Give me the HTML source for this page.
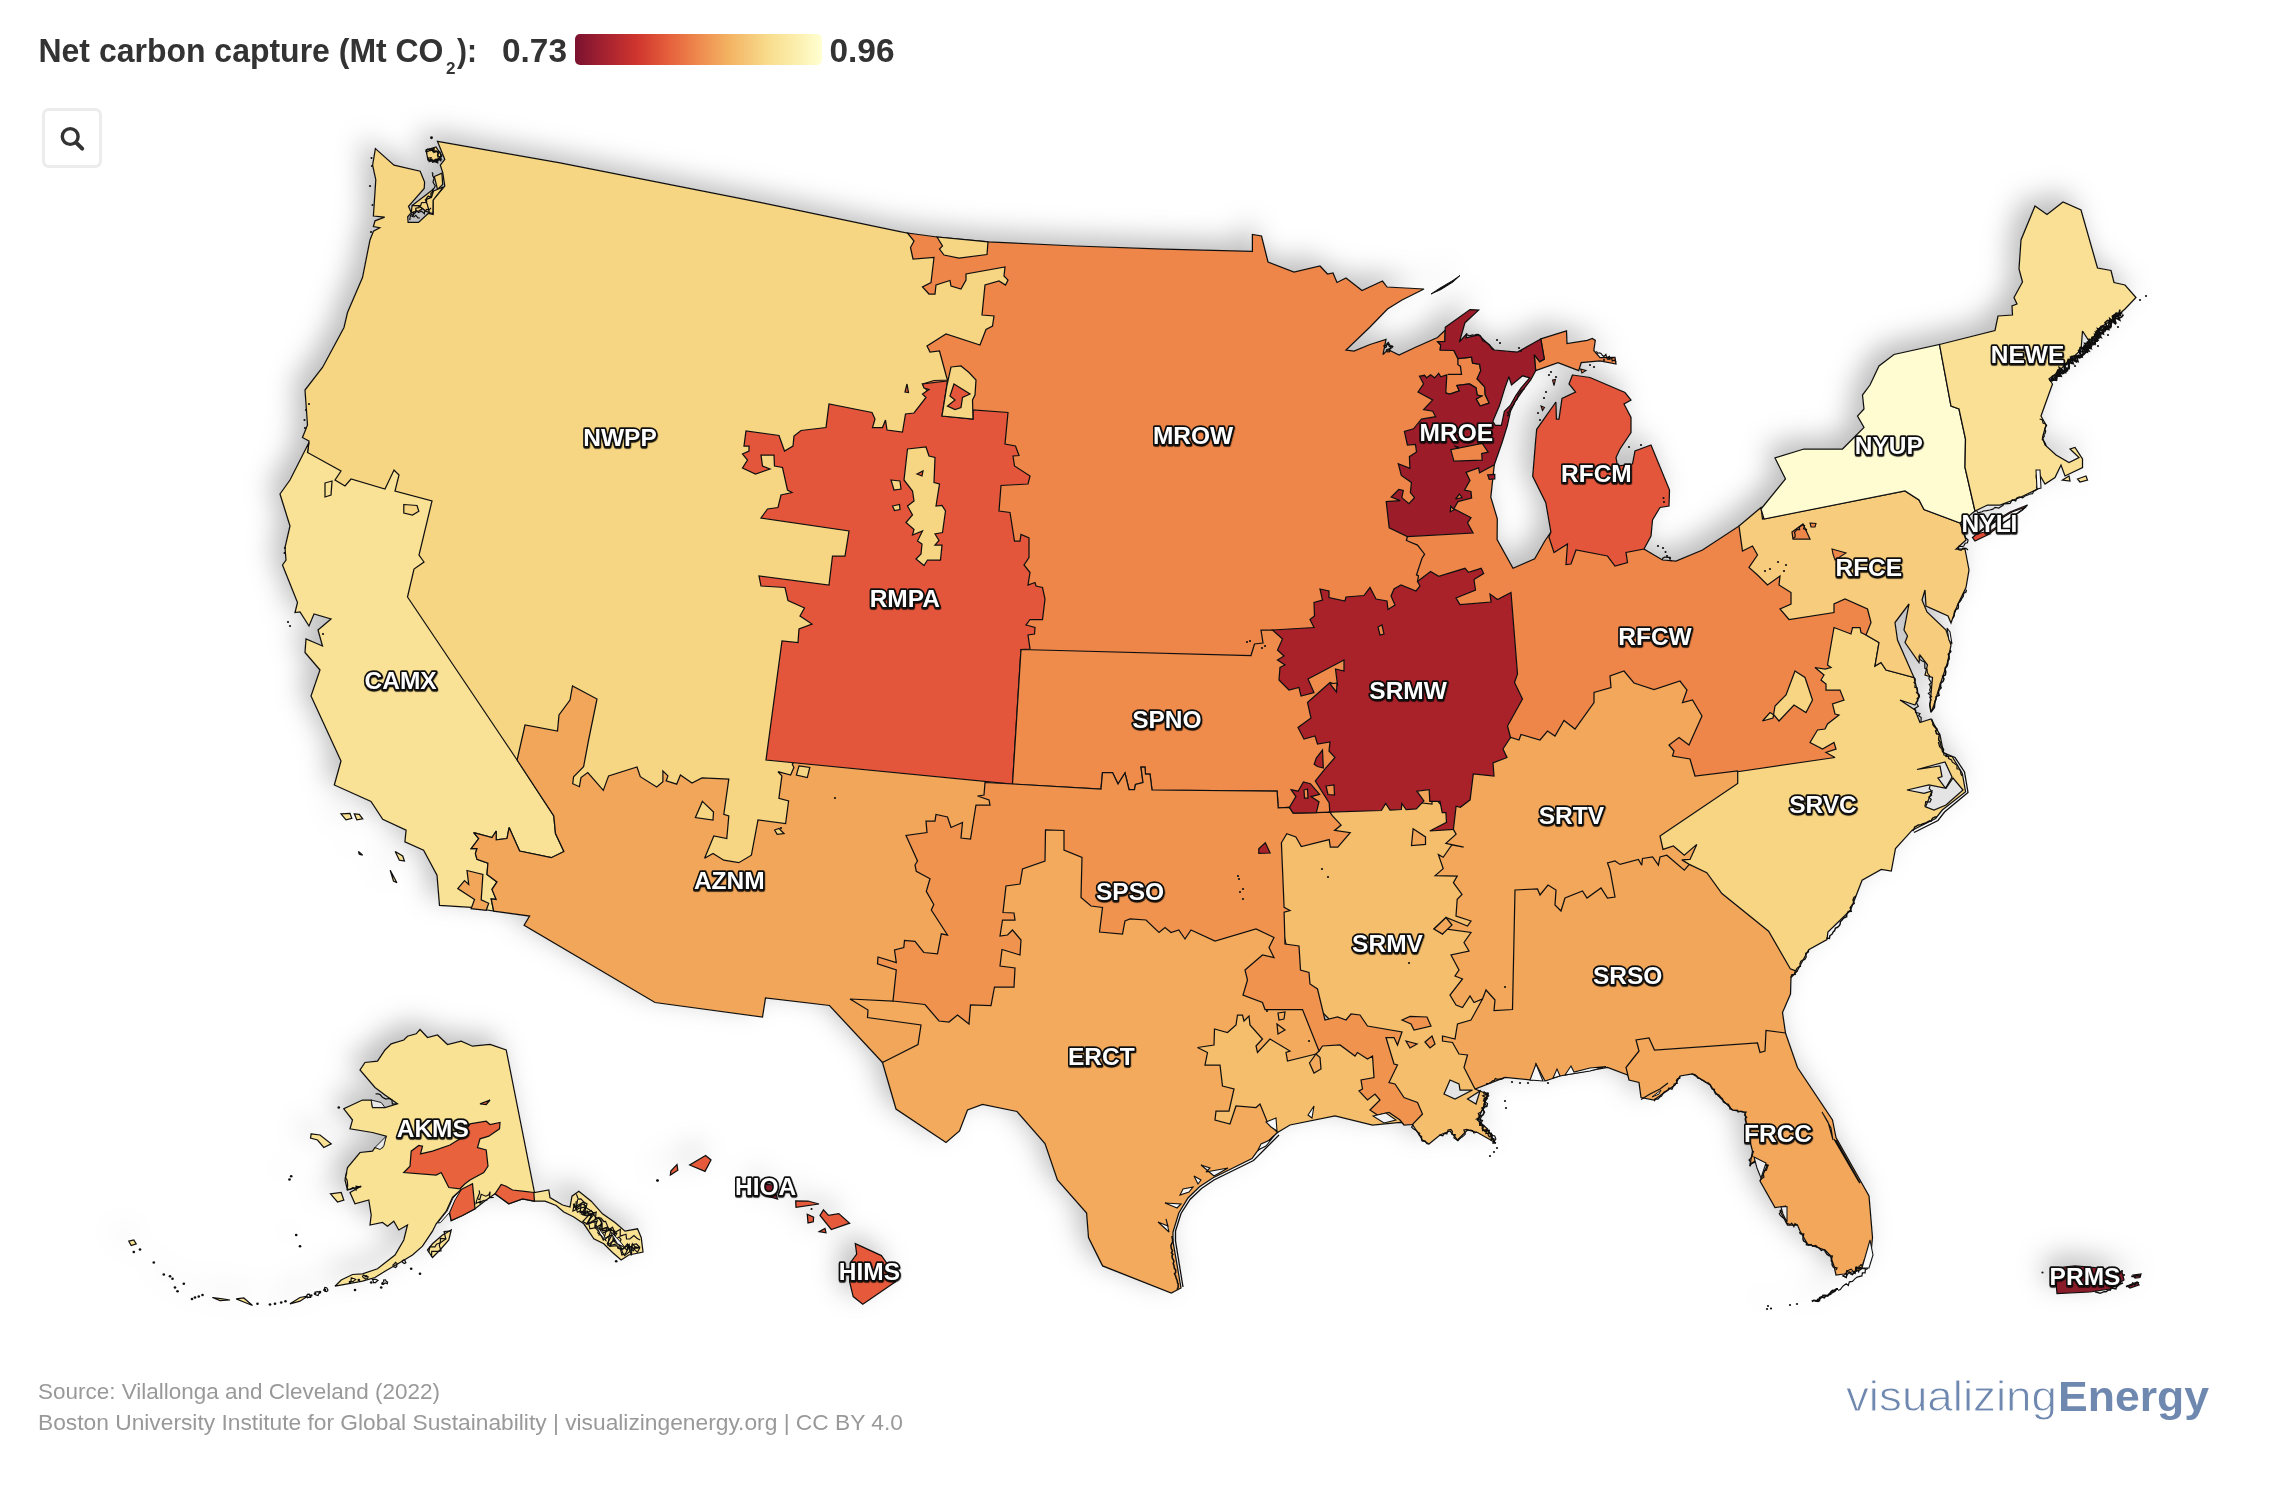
<!DOCTYPE html>
<html><head><meta charset="utf-8"><title>Net carbon capture</title>
<style>
html,body{margin:0;padding:0;background:#fff;}
body{width:2276px;height:1488px;overflow:hidden;position:relative;font-family:"Liberation Sans",sans-serif;}
svg{position:absolute;left:0;top:0;}
.map polygon,.map path{stroke:#111;stroke-width:1.25;stroke-linejoin:miter;stroke-miterlimit:3;}
.lab text{font-family:"Liberation Sans",sans-serif;font-weight:700;font-size:24.5px;text-anchor:middle;fill:#fff;stroke:#0c0c0c;stroke-width:3.3px;paint-order:stroke;stroke-linejoin:round;}
.hd text{font-family:"Liberation Sans",sans-serif;font-weight:700;fill:#333;}
.ft text{font-family:"Liberation Sans",sans-serif;fill:#999;font-size:22.5px;}
.btn{position:absolute;left:41.5px;top:107.5px;width:54.5px;height:54.5px;border:3.2px solid #ececec;border-radius:7px;background:#fff;}
</style></head><body>
<svg width="2276" height="1488" viewBox="0 0 2276 1488">
<defs>
<linearGradient id="lg" x1="0" x2="1" y1="0" y2="0">
<stop offset="0" stop-color="#7b1230"/><stop offset="0.12" stop-color="#a52230"/><stop offset="0.25" stop-color="#cf352e"/><stop offset="0.38" stop-color="#e6603c"/><stop offset="0.5" stop-color="#ee8a4e"/><stop offset="0.62" stop-color="#f3b262"/><stop offset="0.78" stop-color="#f8dc8c"/><stop offset="0.9" stop-color="#fcefae"/><stop offset="1" stop-color="#ffffd2"/>
</linearGradient>
<filter id="ls" x="-20%" y="-40%" width="140%" height="180%"><feDropShadow dx="0.3" dy="1.1" stdDeviation="0.45" flood-color="#000" flood-opacity="0.85"/></filter>
<filter id="noop" x="0" y="0" width="100%" height="100%"><feOffset dx="0" dy="0"/></filter>
<filter id="ds" x="-8%" y="-8%" width="116%" height="116%"><feDropShadow dx="-10" dy="-10" stdDeviation="13.5" flood-color="#000" flood-opacity="0.26"/></filter>
</defs>
<g class="map" filter="url(#ds)">
<polygon fill="#f7d683" points="437.5,141.4 560,162.8 660,182.6 760,202.4 900,231.6 912,234 1015,255 1015,400 985,430 930,400 870,600 812,700 812,870 700,870 700,800 560,800 530,790 400,620 330,500 307.5,452.5 309,441 302.5,437.5 307.5,425 305,390 322.5,367.5 344,327.5 347.5,312.5 362.5,277.5 370,240 373.4,231.3 379.8,227.7 373.4,226.5 375,220.8 384.7,217.2 373.4,216 375.8,179.7 372.6,165.2 375.4,148.6 394,165.2 420.2,171.2 424.6,182.1 424.2,188.5 408.5,206.3 411.3,212.7 407.7,216.8 408.1,222.4 418.5,222.4 428.2,213.5 433.1,214.4 433.1,199.8 444.8,186.1 442.7,172.4 440.3,165.2 444.8,159.5"/>
<polygon fill="#f7d683" points="422.6,197.4 433,189.4 431.5,197.4 425.8,199.8 428.2,205.5 429.8,212.7 425.8,211.1 418.5,205.5 412.1,205.5"/>
<polygon fill="#f7d683" points="434.3,176.5 441.9,173.2 442.7,184.5 437.5,189.4"/>
<polygon fill="#f7d683" points="433.5,191 443.5,186.9 433.1,200.2 432.9,213.5 429.4,212.7 427.4,204.7 425.4,199.8 431.5,197.4"/>
<polygon fill="#f7d683" points="412.1,205.5 418.5,205.9 422.6,208.7 418.5,211.1 411.3,212.7"/>
<polygon fill="#f7d683" points="426,150 436,147 442,156 436,162 428,160"/>
<polygon fill="#ee864a" points="907.5,233 937,237 988,241.8 1075.7,246 1163.6,249.2 1252.4,251.3 1252.4,234.5 1261.5,236 1268,262 1294,272 1320,266 1327.5,274 1333,273 1337,282.5 1346,278 1362,290.5 1382.5,281 1387,287 1424,289 1402,300 1387.5,309 1370,327 1346,350 1354,351 1370,344.5 1386,339.4 1383,354.6 1388,349.5 1399,355 1415,347.5 1437.5,337.5 1445.3,330 1444.8,341.4 1437.7,341.9 1440.7,345 1440.2,350 1453.9,350.5 1457.9,358.6 1471.6,357.1 1472.6,363.2 1479.6,364.2 1480.7,370.7 1477.1,378.8 1484.7,386.9 1485.2,394.5 1489.2,403.1 1480.1,406.1 1476.1,399 1481.7,396 1477.1,395 1476.1,387.9 1469.5,383.9 1456.9,385.4 1459.4,390.9 1449.8,394 1445.8,393 1440,400 1440,520 1440,600 1300,700 1021,700 1000,600 985,500 985,430 930,395 922.5,384 934,380.5 947.5,380 946,375 939.5,351 930,352 927,346 946,334 980,345 986,329.5 992.5,326 994,316 982,315 985,285 999,281 1005.5,285 1008,280 1004,276 1005,267 966,274 966,280 961,289 951,286 950,280.5 936,285 935,294 929,294 922.5,287 931,282.5 934,257.5 913,259 910.5,247.5 914,241"/>
<polygon fill="#ee864a" points="1540.8,338.9 1566.5,330.8 1567,343.5 1587.3,340.4 1592.3,338.4 1595.3,340.4 1593.8,350.5 1600,357.6 1615,357.5 1616,364 1600,361 1581.2,362.7 1578.7,370.7 1558,362.7 1535.7,370.7 1534.2,354.6 1539.8,361.6 1544.3,359.1"/>
<polygon fill="#f7d683" points="937,237 942.5,246 939.5,249 944,255 959,258 987,254.5 988,241.8"/>
<polygon fill="#f9e195" points="309,442.5 307.5,452.5 341,471 335,480 345,486 351,479 385,489 394,470 399,475 395,491 432,501 419,555 424,562 414,569 407.5,597 517.1,760 553.8,815.9 555.5,833.5 563.9,851.5 551.3,857.7 519.6,851 509.1,827.6 507,838.5 496.2,839.8 496.2,831 492,837.6 473.7,832.6 478.7,838.5 471.2,848.5 477,848.5 475.4,853.5 477,859.3 487.9,863.2 487,874.4 497,881.9 492,889.4 496.2,899.4 491.2,898.9 493.7,911.1 471.2,907.3 439.5,905.3 437,875.2 423.6,850.2 404.9,841.8 406.1,830.1 382.7,819.3 371,801.4 334.3,785 341,761 311,696 320,670 305,652.5 306,639 322.5,646 318,630 331,619 314,614 309,626 300,612 295,612.5 297.5,602.5 282.5,565 286,560 285,547.5 290,526 280,494 290,480"/>
<polygon fill="#f7d683" points="403.8,504.5 417,505.5 418.8,511.3 412.5,515 403.8,513"/>
<polygon fill="#f9e195" points="325,483 332,481 331,495 325,497"/>
<polygon fill="#f9e195" points="341,813.8 350,813.4 351.8,818.4 346,819.8"/>
<polygon fill="#f9e195" points="354.3,813.8 359.3,814.3 362.7,818.8 356.8,819.8"/>
<polygon fill="#f9e195" points="395.2,851.5 402.7,856 404.4,861 399.4,860.2"/>
<polygon fill="#f9e195" points="390.2,870.2 396.9,882.7 393.5,881"/>
<polygon fill="#f9e195" points="358.5,851.5 362.7,855.2 359.3,854.3"/>
<polygon fill="#f2a65a" points="517.1,760 525,725 557.5,731 559,715 570,700 572.5,686 597,699 588.6,740 583.6,766.7 573.6,776.7 572.7,783.7 579.4,786.7 581,777.6 587.8,772.6 603.3,790.4 608.6,775.9 637,767 640.3,776.7 656.7,787 662.9,781.7 662.9,770.9 667.9,775.9 666.2,780.9 676.7,784.2 680.4,775 692,783 702,778 728.8,779.2 723.8,814.3 728.8,816 726.8,838.5 713.8,836 704.6,858.2 713,853.5 723.8,860.2 738.8,862.7 751.4,855.2 758,820 785.6,823.5 788.6,801 778.9,798.4 781.9,775.9 778,771.7 790.6,775 793.9,767.5 792.3,764.2 800,755 985,775 1000,800 990,950 980,1010 940,1040 882.5,1062.5 829.5,1005.5 765.5,998 762.5,1017 655,1002.5 600,970 524.1,925.3 529.6,916.1 493.7,911.1 491.2,898.9 496.2,899.4 492,889.4 497,881.9 487,874.4 487.9,863.2 477,859.3 475.4,853.5 477,848.5 471.2,848.5 478.7,838.5 473.7,832.6 492,837.6 496.2,831 496.2,839.8 507,838.5 509.1,827.6 519.6,851 551.3,857.7 563.9,851.5 555.5,833.5 553.8,815.9"/>
<polygon fill="#f2a65a" points="467,870.5 482.9,874.4 481.2,899.9 488.7,903.3 486.2,910.3 471.2,908.6 474.5,899.4 457.8,888.6 464.5,880.6 468.7,884.4"/>
<polygon fill="#f7d683" points="702.4,801.4 713.5,812 713,820 695.4,817.6"/>
<polygon fill="#f7d683" points="799,765.9 809.8,767.5 807.3,777.6 796.4,775"/>
<polygon fill="#f7d683" points="774.7,830 779,828.5 784,833.5 777.2,834.3"/>
<polygon fill="#e4573a" points="922.5,384 924,388 929,389.5 922.5,394 926,397.5 914,413 905.5,414 902.5,432 887,430 885.5,420 882.5,427.5 872.5,427.5 875,419 872,412.5 829,404 826,427.5 801,430.5 794,436 793,446 784.5,451 779,435.5 746,431 744,446 749,446 749,451 742.5,454 747.5,460 742.5,468 755.5,474 770,469 762.5,466 761,455 774,455 774.5,466 782.5,467.5 787.5,490 792,492.5 781,495 778,507.5 767.5,509 761,518 849,531 845,556 832.5,556 829,585 759,576 761,586 785,587.5 788,600.5 804.5,608 800,616 812,624 799,629 798,642.5 782,641 766,760 1012.5,784 1021,649.5 1030,649 1028,635 1034.5,634 1035,627.5 1026,625 1030,619.5 1042.5,619.5 1045,599 1042.5,587.5 1036,586 1035,582.5 1028,585 1030,572.5 1024,565 1029,557.5 1029,538 1021,534.5 1020,541 1014.5,541 1010,512.5 999,511 1001,485.5 1028,484 1030,476 1014.5,466 1013,456 1019,455.5 1015.5,446 1005,444 1008,412.5 973,410 973,419 942,416 947.5,381"/>
<polygon fill="#f7d683" points="951,367 961,366 969,372.5 976,380 975,395 972.5,400 973,419 942,416 947,385"/>
<polygon fill="#e4573a" points="954,384 970,394 962.5,397.5 961,407.5 955,409.5 947.5,406 955,400 950,396"/>
<polygon fill="#e4573a" points="905,392 907,384 908.5,392.5"/>
<polygon fill="#f7d683" points="907.5,449 926,447 929,456 935,457.5 934,482.5 939.5,484 936,506 942,505.5 945.5,511 942.5,532.5 935,534 939,540.5 935,545 942,545 940.5,560 927.5,560 924,565.5 916,559 921,554 922,544 917.5,541 922.5,531 912.5,535 914,529.5 906,522.5 912.5,515 907.5,506 914,501 912.5,491 904,480"/>
<polygon fill="#f7d683" points="891,480 900,481 901,489 894,490"/>
<polygon fill="#f7d683" points="892.5,506 899.5,504.5 900,509.5 894.5,510.5"/>
<polygon fill="#e4573a" points="917,474 923,471 922,476"/>
<polygon fill="#ef8b4c" points="1021,649.5 1251,655.5 1254.5,644 1263,643 1261,630 1272.5,630 1300,635 1360,650 1360,720 1345,805 1320,816 1295,816 1289.5,807.3 1278.2,807.8 1277.1,791.2 1152,790 1150,774 1145.5,774 1145,767 1141,767 1143,782.5 1135.5,784.5 1134.5,789.5 1129,789.5 1125,773 1118,784 1112.5,772.5 1102.5,772.5 1101,789 1012.5,784"/>
<polygon fill="#f3aa5c" points="882.5,1062.5 918,1044.5 921,1025 867.5,1017.5 868,1010 850,999 893,1001 900,995 950,960 955,920 945,890 940,870 1000,850 1040,820 1070,820 1090,840 1090,890 1110,900 1160,915 1280,920 1300,990 1340,1040 1330,1060 1300,1100 1277.5,1132.5 1257.5,1151 1252,1158.6 1212.7,1178 1199.5,1186.8 1188,1198 1178.8,1213 1173,1232 1173,1241.4 1181,1288 1171.3,1293 1102.6,1265.9 1088.5,1237.6 1086.6,1213 1057.4,1180 1045,1143.5 1017,1111.5 982.5,1104.5 967.5,1110 959.5,1131 946,1142.5 896,1109"/>
<polygon fill="#ee864a" points="1407.4,536.5 1406.4,540.5 1417.5,545.1 1424.6,554.2 1422,558.2 1416.5,574.9 1418.5,575.9 1417.5,581.5 1440,600 1500,620 1500,740 1560,745 1600,720 1620,690 1690,710 1665,745 1668,760 1690,780 1700,790 1845,770 1855,700 1845,640 1880,640 1880,590 1800,590 1770,560 1750,526 1739,526 1702.5,550 1676,561 1662.5,560 1644,549 1640,540 1560,538 1550.9,532 1544.8,541 1534.7,558.7 1513,568.3 1497.1,539.5 1497.3,518.8 1490.8,497.1 1494.3,464.8 1455,465 1445,525"/>
<polygon fill="#f2a75a" points="1495,740 1507,740 1511,737.5 1519,740 1521,734.5 1540,740 1547.5,731 1555,736 1564,720.5 1575,729 1594,702.5 1594,692.5 1611,687.5 1610,676 1624,671 1634,683 1654,689.5 1680,681 1687,690 1682.5,702.5 1692.5,700 1702,716 1689,745 1679,737.5 1669,745 1674,751 1672.5,756 1690,759 1695,776 1737.5,771 1745,790 1700,860 1690,880 1600,910 1560,915 1525,900 1525,1020 1490,1020 1440,1000 1430,850 1440,815 1460,790 1465,770 1488,770"/>
<polygon fill="#f2a65a" points="1482.5,999 1486,990 1495,1000 1494,1010.5 1512.5,1009.5 1515,890 1537.5,889 1540,895 1548,885 1556,890 1555,905 1561,911 1565,898 1582.5,891 1587,898 1601,888 1607.5,898 1615,897 1610,870 1607.5,863 1615,861 1620,864.4 1638.4,859.4 1641.7,865.2 1642.5,858.5 1652.6,856.9 1658.4,865.2 1660,856.9 1666.8,855.2 1684.3,870.2 1689.3,864.4 1705,865 1730,890 1780,930 1795,962 1797,971.3 1791,977.5 1790.5,994 1782.5,1012.5 1785.5,1033 1775,1045 1768,1058 1660,1062 1640,1070 1630,1078 1627.5,1075 1607.5,1067.5 1560,1076 1545,1081 1536,1064 1532.5,1080 1505,1077.5 1475,1089 1455,1075 1435,1045 1450,1015 1470,1005"/>
<polygon fill="#f7d583" points="1797,971.3 1790.3,968.8 1768.6,931.2 1721.9,893.6 1706.8,872.7 1689.3,864.4 1681.8,859.9 1690,859.4 1696.8,844.4 1684.3,855.2 1673.4,846 1663,849.4 1660,836 1737.7,783.4 1737.7,771.7 1835,757.5 1826,752.5 1836,749 1834,742.5 1822.5,749 1810,742.5 1817.5,730 1825,729 1827.5,724 1839,715 1835,714 1832.5,704 1844,700 1840,690 1826,690 1826,684 1821,680 1824,675 1815,667.5 1825,669 1831,667.5 1827.5,665 1834,627.5 1851,634 1852.5,627.5 1860,627.5 1861,632.5 1866,635 1879,642.5 1875,666 1881,662.5 1886,670 1914,677.5 1919,697.5 1915,705 1900,700 1915,710 1920,722.5 1931,719 1940,735 1944,755 1952.3,756.7 1962.3,773.4 1965.6,791.8 1942.3,810 1935.6,818.5 1912.2,830.2 1895.5,848.5 1891.3,871 1881.3,869.4 1862.1,880.3 1850.4,910.3 1827.9,932 1827,939.5 1808.7,949.6"/>
<polygon fill="#f7d583" points="1795,671 1805,677.5 1812.5,700 1806,712.5 1794,705 1779,721 1774,715 1770,712.5 1762.5,721 1773,718 1775,706 1786,695"/>
<polygon fill="#e4e4e4" points="1917,769.5 1945,762 1952,777 1945.6,788.4 1938,778 1942,776.7 1940,766"/>
<polygon fill="#e4e4e4" points="1907,790 1929,785 1946,788.4 1953,778 1963,790 1946,805 1934,810 1925.6,806.8 1932,791 1924,793.4"/>
<polygon fill="#f2a75a" points="1626,1067.5 1639,1051 1636,1040 1649,1038 1654.5,1050 1757.5,1043 1760,1052.5 1765,1051 1766,1030.5 1785.5,1033 1797.5,1067.5 1832.5,1120 1836,1137.5 1860,1180 1869,1196 1872.5,1237.5 1870,1262.5 1860,1270 1844,1274 1836,1275 1834,1266 1830,1255 1825,1250 1807.5,1244 1800,1231 1797.5,1225 1787.5,1225 1780,1211 1786,1206 1775,1207.5 1760,1181 1767.5,1165 1756,1160 1750,1165 1752.5,1151 1747,1130 1745,1112.5 1732.5,1110 1717.5,1095 1710,1085 1692.5,1074 1680,1076 1675,1085 1654,1100 1641,1097.5 1639,1082.5 1629,1080"/>
<polygon fill="#f7cc7b" points="1739,526 1761,507.5 1762.5,519 1905,491 1919,500 1924,509.5 1960,523 1966,540 1956,549 1965,549 1969,570 1966,587.5 1957.5,605 1951,623 1948,616 1926,606 1925,590 1922,600 1927,612 1946,630 1951,645 1947.5,662.5 1940,685 1934,705 1931,712.5 1930,705 1932.5,677.5 1925,675 1927.5,665 1920,655 1919,662.5 1905,642.5 1907.5,636 1904,630 1909,604 1895,622.5 1897.5,640 1914,677.5 1886,670 1881,662.5 1875,666 1879,642.5 1866,635 1871,622.5 1867.5,609 1845,599 1834,604 1834,612.5 1789,619.5 1780,609 1791,604 1791,592.5 1779,585 1780,576 1767.5,585 1757.5,575 1749,567.5 1757.5,555 1752.5,546 1742.5,551"/>
<polygon fill="#ee864a" points="1792,532 1803,524 1810,539 1793,539"/>
<polygon fill="#fffcd2" points="1761,509 1785.5,479 1775,458 1804,449 1842.5,449 1864,427.5 1857.5,416 1864,409 1862.5,395 1870,385 1879,366 1894,354.5 1939.5,344.5 1951,406 1959,409 1965.5,439 1965,467.5 1975,511 1960,523 1924,509.5 1919,500 1905,491 1764,519"/>
<polygon fill="#f9e094" points="1939.5,344.5 1995,330.5 1998,316 2012.5,315 2012,306 2017,304 2014,297.5 2022.5,282 2019,269 2021,240 2035,206 2047,214.5 2063,202 2081,210 2097.5,268 2111,270.5 2114,282.5 2125,285 2136,297.5 2125,309 2112.5,320 2100,327.5 2090,342.5 2082.5,331 2081,350 2070,360 2057.5,372.5 2049,379 2052.5,384 2041,416 2046,425 2042.5,437.5 2045,445 2056,455 2069,462.5 2079,457.5 2070,449 2075,447.5 2082.5,459 2082.5,467.5 2065,476 2061,465 2055,477.5 2045,484 2037.5,471 2037.5,489 2020,497.5 2000,505 1987.5,505 1975,511 1965,467.5 1965.5,439 1959,409 1951,406"/>
<polygon fill="#f9e094" points="2062.5,480 2069,476 2070,481"/>
<polygon fill="#f9e094" points="2077.5,479 2086,476 2087.5,480 2080,482"/>
<polygon fill="#df4a35" points="1972.5,537.5 1985,527 2010,512 2027.5,505 2022.5,510 2005,522 1987.5,535 1975,541"/>
<polygon fill="#f5be6c" points="1197.5,1047.5 1214,1045 1214.5,1029 1227.5,1032.5 1236,1025 1237.5,1015 1242.5,1015 1244,1021 1249,1016 1250,1025 1262.5,1039 1256,1046 1257.5,1052.5 1270,1039 1290,1051 1286,1052.5 1287.5,1061 1316,1054 1319,1051 1325,1040 1380,1050 1388,1098 1408,1115 1412.5,1124.5 1400,1122.5 1372.5,1125 1335,1116 1290,1125 1277.5,1132.5 1267.5,1122.5 1260,1104 1256,1107.5 1236,1106 1230,1124 1215,1120 1216,1111 1229,1111 1234,1089 1222.5,1086 1220,1065 1205,1065 1207.5,1052.5"/>
<polygon fill="#f3aa5c" points="1316,1054 1320,1057.5 1321,1069 1314,1073 1309.5,1063"/>
<polygon fill="#f5be6c" points="1275,825 1325,818 1335,808 1340,800 1410,800 1435,798 1450,815 1453.4,829.4 1456.1,834.2 1445.9,843.3 1463.7,847.1 1451.8,845 1443.2,857.3 1438.4,854.6 1443.2,868.6 1435.2,875.6 1457.2,876.1 1453.4,882.6 1462,894.4 1457.2,899.2 1456,916 1471,921 1467.5,926 1446,917.5 1434,929 1442.5,934 1445,929 1471,932.5 1464,942.5 1469,951 1451,955 1459,970 1455,976 1462.5,979 1450,995 1456,1005 1462.5,1007.5 1470,996 1474,1002.5 1482.5,999 1471,1020 1457.5,1024 1455,1039 1442.5,1036 1442.5,1041 1452.5,1042.5 1459,1054 1467.5,1055 1464,1067.5 1475,1089 1487.5,1094 1484,1106 1477.5,1120 1487.5,1129 1495,1142.5 1477.5,1132.5 1467.5,1130 1457.5,1140 1450,1131 1440,1135 1429,1144 1422.5,1140 1412.5,1124.5 1405,1110 1385,1090 1380,1045 1340,1030 1310,1000 1290,960 1275,900"/>
<polygon fill="#e4e4e4" points="1444,1094 1450,1080 1459,1084 1460,1090 1472.5,1090 1455,1099"/>
<polygon fill="#e4e4e4" points="1467.5,1099 1480,1091 1476,1104"/>
<polygon fill="#f2a75a" points="1413.1,828.8 1425.5,836.9 1425.5,844.4 1411.5,845.5"/>
<polygon fill="#ef9350" points="1402,1020 1410,1016.5 1427,1017 1431,1026 1414,1030 1411,1024"/>
<polygon fill="#ef9350" points="1406,1041 1417,1044 1410,1048"/>
<polygon fill="#ef9350" points="1425,1042 1432,1036 1435,1044 1430,1048"/>
<polygon fill="#ef9350" points="1377,1088 1382,1084 1384,1091 1378,1091"/>
<polygon fill="#f2a75a" points="1434,929 1446,917.5 1452,925 1442.5,934"/>
<polygon fill="#ef9350" points="985,782.5 1012.5,784 1101,789 1102.5,772.5 1112.5,772.5 1118,784 1125,773 1129,789.5 1134.5,789.5 1135.5,784.5 1143,782.5 1141,767 1145,767 1145.5,774 1150,774 1152,790 1277.1,791.2 1278.2,807.8 1289.5,807.3 1293.2,813.2 1316.3,812.7 1329.8,812.2 1332.5,815.9 1341.1,825.1 1334.6,830.4 1350.2,832.6 1337.8,847.1 1330.3,847.1 1329.2,839.6 1301.3,846.6 1295.9,836.9 1286.8,833.7 1281.4,842.8 1284.1,907.3 1290,910.5 1284.1,912.2 1285,944 1299,946 1300.5,970 1309,972.5 1310,984 1317.5,989 1325,1020 1337.5,1017 1346,1020 1351,1014 1360,1015 1367.5,1026 1402,1032 1397.5,1045 1394,1037.5 1386,1037.5 1394,1064 1397.5,1065 1389,1082.5 1395,1084 1404,1097.5 1417.5,1102.5 1422.5,1114 1412.5,1124.5 1404,1125 1400,1120 1389,1112.5 1377.5,1115 1370,1110 1380,1100 1375,1094 1367.5,1100 1359,1091 1362.5,1089 1361,1080 1374,1077.5 1372.5,1056 1367.5,1059 1357.5,1052.5 1355,1056 1340,1045 1322.5,1046 1319,1051 1302.5,1009.5 1265,1009.5 1262.5,1002.5 1243,995 1247.5,980 1245,970 1262.5,955 1274,957.5 1269,947.5 1274,937.5 1256,929 1215,941 1191,930 1185,939 1178.8,930 1171,932.5 1165,927.5 1159,932.5 1146,920 1130,919 1125,921 1122.5,934 1099.5,932 1102.5,907.5 1091,906 1081,897.5 1082,857.5 1064,850 1064,830.5 1045.5,830 1045,861 1022.5,869 1020,884 1006,886 1003,912.5 1014,913 1015,920 1002.5,920 1000,936 1007.5,935 1012.5,930 1021,940 1020,955 1002,949.5 1000,966 1015,968 1014,987 994.5,987 991,1005.5 970.5,1005 969,1024 957.5,1015 949,1022 939,1021 925,1004.5 893,1001 896.3,970 877.5,963.8 878,957 896.3,962.5 894.5,950 903.8,947.5 904.5,940.5 915,941.3 923.8,952.5 937.5,953.8 941.3,933.8 947.5,935 931.3,910 933.8,904.5 926.3,891.3 930,878.8 916.3,871.3 915,865 917.5,861 906,835.5 927,832.5 926,821 935,821 936,814.5 947.5,817 951,827.5 962.5,822.5 961,838 970.5,839 976,805 990,805 989,800 977.5,796 984,795"/>
<polygon fill="#f3aa5c" points="1278,1013 1285,1012 1284,1019 1279,1020"/>
<polygon fill="#f3aa5c" points="1277,1024 1285,1030 1278,1034"/>
<polygon fill="#e4573a" points="1572.5,375 1590,377.5 1625,392.5 1631,400 1624,404 1631,417.5 1631,432.5 1620,449 1616,457.5 1617.5,466 1632.5,464 1635,451 1651,445 1669.5,490 1669,506 1660,507.5 1652.5,520 1651,536 1644,549 1626,552.5 1627.5,562.5 1615,566 1607.5,556 1576,550 1571,564 1566,564.5 1567.5,544 1554,552.5 1548.9,537 1550.9,532 1545.8,502.7 1532.7,476.4 1535.7,440 1536.7,429.3 1555.9,402 1556.4,419.2 1559,419.2 1562,398.5 1575.6,392 1569,383.9"/>
<path fill="#9c1d2c" fill-rule="evenodd" d="M1445.3 327.3 L1470 309.6 L1478.6 310.1 L1465 322.7 L1459.4 342 L1467 333.3 L1466 337.9 L1478.6 334.9 L1494.3 350 L1517.5 352 L1540.8 338.9 L1544.3 359.1 L1539.8 361.6 L1534.2 354.6 L1535.7 370.7 L1530.7 379.8 L1524.6 387.9 L1515.5 401 L1510.5 411.2 L1507.4 425.3 L1502.4 441.5 L1494.3 464.8 L1479.6 472.8 L1478.6 467.8 L1466 472.3 L1470 480.4 L1464.5 490 L1471 491.5 L1471.6 498.1 L1457.9 501.6 L1453.9 508.7 L1471 517.8 L1467.5 522.9 L1473.1 533 L1407.4 536.5 L1389.2 527.9 L1386.2 501.6 L1400.3 500.6 L1391.2 497.1 L1398.8 489.5 L1403.3 490.5 L1401.8 497.6 L1408.9 503.7 L1414.5 497.6 L1410.4 492.5 L1411.4 482.4 L1401.3 475.4 L1398.3 463.7 L1409.9 468.3 L1409.4 456.7 L1416.5 452 L1415.5 444.5 L1407.4 445 L1404.4 431.4 L1413.5 428.8 L1421.5 419.2 L1435.7 416.7 L1432.7 411.2 L1423.6 409.6 L1432.7 400 L1418 392 L1423.6 383.9 L1419.5 376.3 L1424.6 375.3 L1426.6 377.8 L1430.6 374.8 L1434.7 377.8 L1438.7 373.3 L1440.7 376.8 L1446.8 374.8 L1445.8 393 L1449.8 394 L1459.4 390.9 L1456.9 385.4 L1469.5 383.9 L1476.1 387.9 L1477.1 395 L1481.7 396 L1476.1 399 L1480.1 406.1 L1489.2 403.1 L1485.2 394.5 L1484.7 386.9 L1477.1 378.8 L1480.7 370.7 L1479.6 364.2 L1472.6 363.2 L1471.6 357.1 L1457.9 358.6 L1453.9 350.5 L1440.2 350 L1440.7 345 L1437.7 341.9 L1444.8 341.4Z M1508.9 376.8 L1511.5 384.9 L1522.6 375.8 L1529.7 377.8 L1521.1 387.9 L1515.5 396 L1510.5 405.1 L1504.4 411.2 L1501.4 425.3 L1495.3 425.3 L1492.8 421.3 L1499.3 406.1 L1504.9 387.9Z"/>
<polygon fill="#ee864a" points="1450.8,449.6 1482.2,443.5 1488.2,452.1 1481.7,453.6 1482.2,460.2 1453.9,461.2"/>
<polygon fill="#9c1d2c" points="1487.7,474.9 1494.8,474.4 1494.8,478.9 1489.2,479.4"/>
<polygon fill="#ee864a" points="1450.8,506.2 1450.3,511.7 1454.4,509.7"/>
<polygon fill="#ee864a" points="1455.5,499 1459.5,494 1462,497.5"/>
<polygon fill="#f2a75a" points="1414,789 1432,787 1432,804 1422,803"/>
<polygon fill="#a9212c" points="1272.5,630 1314,627.5 1310,619.5 1314.5,616 1314,602.5 1322.5,600 1320,589 1329,591 1329,597.5 1345,601 1346,597 1364,595.5 1370,587.5 1376,599 1387,601 1388,609.5 1395,605 1391,596 1394,589 1401,585 1416,591 1420,586 1417.5,581.5 1430.6,571.4 1438.7,576.4 1465,568.3 1468.5,572.4 1481.2,568.3 1483.7,573.4 1474,579.5 1475.5,590 1456,598 1460,604.5 1491,602 1490,594 1497.5,599.5 1511,592.5 1517.5,674 1514.5,682.5 1522.5,699 1507.5,726 1510.5,737.5 1503,749 1507,757.5 1493,763 1494,776 1473.3,774 1470.1,799.8 1460.4,807.3 1456.1,806.2 1453.4,829.4 1429.8,831 1446.5,822.4 1445.9,812.7 1442.2,812.7 1440,801.4 1429.8,801.4 1429.2,789.6 1416.9,791.2 1423.9,800.9 1416.3,808.9 1406.1,809.5 1401.8,803.5 1401.3,809.5 1390,810 1385.7,803.5 1381.4,810.5 1329.8,812.2 1329.2,803 1315.3,781 1324.4,769.7 1335,757.5 1329,751 1330,742 1317.5,744 1315,736 1304,739 1298,727.5 1311,718 1307.5,702.5 1330,682.5 1337.5,685 1335.5,669 1344,671 1344,660 1308,679 1314,692.5 1301,696 1299,687.5 1289,690 1279,680 1280,667.5 1285,665 1277.5,660 1284,656 1277.5,650 1282.5,639"/>
<polygon fill="#a9212c" points="1289.5,807.3 1293.2,813.2 1316.3,812.7 1319,801.9 1311,796.6 1319.6,794.4 1310.4,783.7 1303.4,782 1298.1,791.2 1291.1,789.6 1295.9,796.6"/>
<polygon fill="#ef8b4c" points="1304,790 1307.5,789 1308,798 1304.5,798"/>
<polygon fill="#a9212c" points="1314.2,764.3 1316.3,758 1322.5,750 1323.3,768 1317.4,766.5"/>
<polygon fill="#a9212c" points="1258.8,848.7 1265.3,842.8 1270.1,853 1258.8,853.3"/>
<polygon fill="#ee864a" points="1330,684 1337,683 1336.5,692"/>
<polygon fill="#ef8b4c" points="1326,786 1334,785 1334.5,795 1328,794.5"/>
<polygon fill="#ee864a" points="1378,627 1382,625 1384,634 1380,635"/>
<polygon fill="#fae295" points="420,1029.5 427.5,1037.5 437.5,1035 447.5,1044.5 461.2,1041.2 472.5,1046.2 490,1044.5 506.2,1050 534.5,1192.5 548.8,1190 550,1197.5 562.5,1205 570,1207 572,1196.2 578.8,1191.2 591.2,1201.2 602.5,1213.8 615,1222.5 625,1231.2 637.5,1228.8 641.2,1237.5 643,1252 628.8,1255 621.2,1260 612.5,1252.5 603.8,1243.8 593.8,1238.8 583.8,1223.8 573.8,1217 563.8,1212 556.2,1205.5 545,1201.2 533.8,1201.2 522.5,1198.8 508.8,1203.8 495,1193.8 486.2,1200 475,1208.8 462.5,1215.5 451.2,1220.5 449.5,1212.5 455,1198.8 461.2,1189.5 452.5,1197.5 446.2,1211.2 436.2,1223.8 432.5,1231.2 422.5,1246.2 412.5,1255 400,1262.5 385,1271.2 375,1277.5 362.5,1281.2 347.5,1283.8 335,1286.2 341.2,1280 352.5,1274.5 362.5,1273.8 377.5,1268.8 395,1255 403.8,1240 407.5,1225 398.8,1230 393.8,1221.2 387.5,1226.2 382.5,1222.5 370,1225 371.2,1215 368.8,1200 355,1203.8 350,1192.5 361.2,1186.2 347.5,1190 345,1180 347.5,1167.5 360,1152.5 372.5,1151.2 375,1147.5 382.5,1147.5 386.2,1136.2 372.5,1132.5 350,1128.8 352.5,1120 343.8,1108.8 362.5,1100 371.2,1100 372.5,1107.5 385,1107.5 397.5,1103.8 385,1095 375,1087.5 360,1070 365,1062.5 377.5,1061.2 385,1050 391.2,1043.8 403.8,1040 407.5,1036.2 416.2,1033.8"/>
<polygon fill="#fae295" points="311.2,1133.8 320,1135 331.2,1143.8 323.8,1147.5 317.5,1140 310.5,1138"/>
<polygon fill="#fae295" points="330.5,1193.8 341.2,1192.5 343.8,1200 337.5,1202"/>
<polygon fill="#fae295" points="427.5,1250 432.5,1243.8 442.5,1235 451.2,1230 448.8,1240 440,1250 432.5,1257.5"/>
<polygon fill="#fae295" points="290,1303.8 300,1297.5 307.5,1296.2 300,1301.2"/>
<polygon fill="#fae295" points="128.8,1241.2 133.8,1240 136.2,1243.8 131.2,1245.5"/>
<polygon fill="#fae295" points="212.5,1297.5 222.5,1298.8 230,1300 220,1300.5"/>
<polygon fill="#fae295" points="236.2,1298.8 243.8,1298 252.5,1305.5 245,1302.5"/>
<polygon fill="#e8633d" points="403.8,1172.5 410,1166.2 411.2,1151.2 418.8,1145.5 422.5,1146.2 420.5,1153.8 432.5,1151.2 450,1145 460,1138.8 470,1123.8 486.2,1121.2 490,1124.5 500,1122.5 499.5,1128.8 488.8,1136.2 480,1138.8 477.5,1147.5 486.2,1150 488,1166.2 483.8,1172.5 470,1180 465,1183.8 460,1188.8 448.8,1187.5 441.2,1172.5 436.2,1175"/>
<polygon fill="#e8633d" points="461.2,1189.5 472.5,1183.8 475,1208.8 462.5,1215.5 451.2,1220.5 449.5,1212.5 455,1198.8"/>
<polygon fill="#e8633d" points="495,1193.8 501.2,1184.5 506.2,1186.2 512.5,1190 522.5,1191.2 533.8,1192.5 534.5,1201.2 522.5,1198.8 508.8,1203.8"/>
<polygon fill="#e8633d" points="480,1103.8 490,1100 486.2,1104.5"/>
<polygon fill="#e65a3a" points="705.6,1155.4 711,1160 705,1171.4 689.7,1165"/>
<polygon fill="#e65a3a" points="677,1164.6 677.8,1170.2 670.4,1175 670.8,1171"/>
<polygon fill="#8a1a2c" points="760,1183.6 772.7,1185 777.6,1199 767,1196"/>
<polygon fill="#e65a3a" points="795.7,1200.9 808,1201 819,1204 796,1207.4"/>
<polygon fill="#e65a3a" points="807.3,1214.3 813.6,1217.2 813.3,1221.8 808,1222.9"/>
<polygon fill="#e65a3a" points="823.5,1209.8 828.5,1215.4 838.8,1213.6 849.6,1223.2 831.3,1229.5 820,1215.4"/>
<polygon fill="#e65a3a" points="819.3,1231.6 825,1228.4 826,1232.8"/>
<polygon fill="#e65a3a" points="855.3,1243.6 881.4,1255.6 888.4,1265.5 895.5,1281.7 862.8,1304.3 853.2,1296.6 849.6,1281.7 851,1262 856.7,1254.2"/>
<polygon fill="#8a1c2c" points="2055,1268 2075,1266 2100,1268 2122,1272 2124,1280 2110,1289 2090,1292 2057,1293.5 2056,1282"/>
<polygon fill="#8a1c2c" points="2127,1286 2137,1282 2139,1285 2130,1288"/>
<polygon fill="#8a1c2c" points="2133,1275 2141,1274 2140,1277.5 2135,1278"/>
<path d="M573.0 1204.5 L575.4 1206.3 L577.5 1212.2 L580.2 1210.9 L584.2 1212.4 L590.5 1213.4 L582.7 1221.5 L587.6 1224.0 L595.0 1221.3 L595.1 1227.6 L598.7 1231.2 L607.2 1227.3 L603.3 1240.3 L608.0 1236.6 L617.1 1232.8 L610.0 1245.6 L619.6 1243.1 L621.1 1243.7 L622.6 1246.2 L627.0 1250.2 L628.1 1245.2 L631.9 1248.2 L637.4 1248.1 L640.0 1247.5" fill="none" style="stroke-width:1.2"/>
<path d="M574.3 1203.3 L572.9 1211.0 L579.7 1208.1 L586.1 1206.9 L583.7 1214.3 L591.1 1210.6 L594.2 1214.1 L588.4 1221.2 L589.9 1228.9 L595.7 1227.7 L602.1 1223.9 L602.2 1230.9 L608.9 1229.6 L614.9 1231.2 L613.8 1238.7 L615.1 1241.7 L617.8 1244.0 L619.7 1245.5 L621.9 1254.9 L625.4 1253.7 L628.7 1247.5 L631.5 1246.4 L637.4 1252.3 L640.0 1247.5" fill="none" style="stroke-width:1.2"/>
<path d="M574.3 1203.7 L574.5 1207.3 L583.6 1201.8 L585.6 1208.4 L582.7 1214.6 L586.5 1215.9 L593.0 1213.9 L595.6 1217.2 L599.4 1218.8 L601.9 1221.7 L601.3 1226.6 L599.3 1234.6 L611.5 1229.1 L609.2 1235.6 L608.1 1244.7 L619.0 1237.0 L621.0 1239.5 L618.6 1247.7 L621.2 1249.9 L629.2 1244.4 L629.4 1248.6 L633.6 1250.6 L635.1 1246.9 L640.0 1247.5" fill="none" style="stroke-width:1.2"/>
<path d="M576.2 1201.1 L575.8 1208.6 L581.8 1203.7 L586.0 1206.0 L581.4 1214.1 L586.0 1214.8 L591.3 1215.3 L587.9 1223.8 L598.9 1217.4 L601.5 1222.8 L597.8 1232.9 L600.9 1235.5 L603.2 1239.6 L613.2 1234.3 L613.1 1239.1 L614.2 1241.8 L618.8 1242.2 L620.1 1243.3 L622.4 1252.3 L624.6 1255.7 L630.8 1250.6 L632.4 1243.7 L635.7 1247.7 L640.0 1247.5" fill="none" style="stroke-width:1.2"/>
<path d="M577.6 1199.3 L576.3 1208.3 L581.1 1204.8 L580.1 1212.6 L587.2 1210.9 L588.5 1214.5 L592.9 1213.2 L586.7 1224.0 L597.3 1220.9 L595.1 1226.6 L599.9 1229.6 L606.7 1227.5 L609.7 1229.0 L613.9 1231.3 L607.3 1243.6 L609.7 1246.3 L617.0 1245.6 L618.1 1248.5 L623.2 1248.9 L627.4 1243.9 L631.4 1255.4 L632.1 1244.7 L636.4 1244.0 L640.0 1247.5" fill="none" style="stroke-width:1.2"/>
<path d="M576.4 1194.3 L578.3 1199.2 L580.9 1198.9 L584.2 1202.4 L587.0 1203.9 L586.1 1207.7 L589.7 1210.1 L593.8 1212.9 L596.2 1212.2 L595.2 1219.5 L600.8 1218.0 L603.9 1221.5 L605.6 1221.3 L607.3 1225.6 L608.9 1229.8 L612.5 1227.1 L614.8 1232.6 L620.3 1229.3 L620.2 1236.1 L626.0 1234.3 L626.5 1238.9 L629.8 1239.0 L634.0 1235.5 L636.9 1238.2 L640.0 1240.0" fill="none" style="stroke-width:1.2"/>
<path d="M596.2 1225.0 L600.0 1233.8 L606.2 1241.2 L603.8 1235.0Z" fill="#f3f3f3" style="stroke-width:0.96"/>
<path d="M610.0 1231.2 L618.8 1240.0 L625.0 1247.5 L617.5 1243.8Z" fill="#f3f3f3" style="stroke-width:0.96"/>
<circle cx="325.0" cy="1290.0" r="1.32" fill="#111" style="stroke:none"/><circle cx="320.0" cy="1292.0" r="1.32" fill="#111" style="stroke:none"/><circle cx="315.0" cy="1293.8" r="1.32" fill="#111" style="stroke:none"/><circle cx="311.2" cy="1295.5" r="1.32" fill="#111" style="stroke:none"/><circle cx="275.0" cy="1303.8" r="1.32" fill="#111" style="stroke:none"/><circle cx="270.0" cy="1304.5" r="1.32" fill="#111" style="stroke:none"/><circle cx="257.5" cy="1303.8" r="1.32" fill="#111" style="stroke:none"/><circle cx="202.5" cy="1295.0" r="1.32" fill="#111" style="stroke:none"/><circle cx="198.8" cy="1296.5" r="1.32" fill="#111" style="stroke:none"/><circle cx="195.0" cy="1297.5" r="1.32" fill="#111" style="stroke:none"/><circle cx="192.0" cy="1299.0" r="1.32" fill="#111" style="stroke:none"/><circle cx="175.0" cy="1287.5" r="1.32" fill="#111" style="stroke:none"/><circle cx="177.5" cy="1291.2" r="1.32" fill="#111" style="stroke:none"/><circle cx="172.5" cy="1278.8" r="1.32" fill="#111" style="stroke:none"/><circle cx="170.0" cy="1276.2" r="1.32" fill="#111" style="stroke:none"/><circle cx="163.8" cy="1274.5" r="1.32" fill="#111" style="stroke:none"/><circle cx="183.8" cy="1283.8" r="1.32" fill="#111" style="stroke:none"/><circle cx="153.8" cy="1262.5" r="1.32" fill="#111" style="stroke:none"/><circle cx="133.8" cy="1252.0" r="1.32" fill="#111" style="stroke:none"/><circle cx="140.0" cy="1249.5" r="1.32" fill="#111" style="stroke:none"/><circle cx="296.2" cy="1235.0" r="1.32" fill="#111" style="stroke:none"/><circle cx="300.0" cy="1246.2" r="1.32" fill="#111" style="stroke:none"/><circle cx="291.2" cy="1176.2" r="1.32" fill="#111" style="stroke:none"/><circle cx="289.5" cy="1179.5" r="1.32" fill="#111" style="stroke:none"/><circle cx="338.8" cy="1107.5" r="1.32" fill="#111" style="stroke:none"/><circle cx="285.5" cy="1301.2" r="1.32" fill="#111" style="stroke:none"/><circle cx="281.2" cy="1302.5" r="1.32" fill="#111" style="stroke:none"/><circle cx="355.0" cy="1290.0" r="1.32" fill="#111" style="stroke:none"/><circle cx="371.2" cy="1282.5" r="1.32" fill="#111" style="stroke:none"/><circle cx="382.5" cy="1283.8" r="1.32" fill="#111" style="stroke:none"/><circle cx="381.2" cy="1287.5" r="1.32" fill="#111" style="stroke:none"/><circle cx="411.2" cy="1268.8" r="1.32" fill="#111" style="stroke:none"/><circle cx="420.0" cy="1273.8" r="1.32" fill="#111" style="stroke:none"/><circle cx="616.2" cy="1261.2" r="1.32" fill="#111" style="stroke:none"/><circle cx="657.5" cy="1180.5" r="1.32" fill="#111" style="stroke:none"/><circle cx="358.8" cy="1280.0" r="1.32" fill="#111" style="stroke:none"/><circle cx="350.0" cy="1282.0" r="1.32" fill="#111" style="stroke:none"/><circle cx="366.2" cy="1276.2" r="1.32" fill="#111" style="stroke:none"/>
<path d="M327.7 1289.5 L327.9 1290.6 L326.7 1291.7 L324.9 1291.3 L323.7 1290.2 L324.3 1288.9 L324.8 1287.5 L326.6 1287.7 L327.3 1288.8Z" fill="none" style="stroke-width:1.2"/>
<path d="M319.9 1293.0 L318.7 1293.8 L318.1 1295.5 L316.0 1295.1 L315.5 1293.6 L315.1 1292.3 L316.7 1291.9 L317.8 1291.7 L318.9 1292.1Z" fill="none" style="stroke-width:1.2"/>
<path d="M310.2 1296.0 L310.6 1297.3 L309.0 1297.2 L307.4 1297.8 L306.5 1296.7 L306.9 1295.5 L307.5 1294.3 L309.2 1294.2 L309.7 1295.4Z" fill="none" style="stroke-width:1.2"/>
<path d="M355.7 1279.5 L354.1 1280.6 L353.0 1281.6 L351.2 1281.4 L351.0 1279.9 L351.2 1279.1 L351.3 1277.8 L352.7 1278.4 L354.0 1278.5Z" fill="none" style="stroke-width:1.2"/>
<path d="M368.2 1277.0 L367.3 1278.5 L365.5 1279.1 L364.2 1278.1 L363.3 1277.5 L362.5 1276.3 L363.6 1275.0 L365.2 1276.1 L366.2 1276.2Z" fill="none" style="stroke-width:1.2"/>
<path d="M378.0 1280.5 L376.5 1281.5 L375.5 1282.7 L373.4 1282.7 L373.3 1281.0 L372.4 1279.7 L374.1 1279.2 L375.3 1279.3 L376.5 1279.5Z" fill="none" style="stroke-width:1.2"/>
<path d="M387.6 1282.0 L387.3 1283.6 L385.2 1282.9 L383.4 1284.2 L382.3 1282.8 L383.8 1281.6 L383.6 1280.0 L385.5 1279.8 L386.2 1281.2Z" fill="none" style="stroke-width:1.2"/>
<path d="M396.7 1265.0 L396.8 1266.2 L395.6 1267.5 L393.7 1266.8 L393.0 1265.6 L393.3 1264.5 L394.3 1264.0 L395.6 1262.4 L397.1 1263.6Z" fill="none" style="stroke-width:1.2"/>
<path d="M405.2 1261.2 L405.9 1262.7 L404.3 1263.6 L402.8 1262.6 L402.1 1261.7 L402.3 1260.8 L403.1 1260.3 L404.0 1260.0 L405.0 1260.4Z" fill="none" style="stroke-width:1.2"/>
<path d="M428.7 1252.3 L429.9 1246.9 L435.0 1246.8 L436.4 1244.3 L440.5 1242.8 L443.5 1240.5 L445.8 1239.0 L444.1 1231.5 L450.0 1231.2" fill="none" style="stroke-width:1.2"/>
<path d="M431.5 1256.7 L431.7 1251.3 L438.2 1251.4 L441.1 1250.8 L439.3 1245.6 L440.4 1241.3 L440.3 1238.4 L446.2 1238.8" fill="none" style="stroke-width:1.2"/>
<path d="M479.1 1190.3 L479.6 1193.0 L477.2 1198.9 L479.8 1199.6 L481.2 1194.3 L485.7 1196.2 L488.8 1194.9 L490.1 1191.6 L489.5 1197.6 L493.8 1197.5" fill="none" style="stroke-width:1.2"/>
<path d="M476.8 1199.5 L476.0 1203.5 L481.1 1201.0 L479.6 1203.5 L483.1 1200.5 L487.5 1200.0" fill="none" style="stroke-width:1.2"/>
<path d="M461.2 1189.5 L453.0 1198.0 L447.0 1211.2 L437.5 1223.0 L440.5 1222.5 L449.5 1212.5 L455.0 1200.0Z" fill="#f1f1f1" style="stroke-width:0.96"/>
<path d="M375.6 1093.8 L378.3 1093.9 L380.3 1094.8 L382.4 1097.2 L385.8 1099.1 L388.9 1098.4 L391.9 1100.0 L392.4 1104.0 L396.2 1103.8" fill="none" style="stroke-width:1.2"/>
<path d="M346.6 1189.6 L350.5 1189.1 L353.0 1187.6 L356.0 1190.1 L356.1 1186.3 L361.2 1187.0" fill="none" style="stroke-width:1.2"/>
<path d="M346.9 1172.5 L346.1 1174.7 L345.4 1177.3 L346.7 1179.3 L347.3 1181.2 L347.7 1185.6 L347.3 1187.6 L348.0 1190.0" fill="none" style="stroke-width:1.2"/>
<path d="M375.0 1147.5 L386.2 1136.2 L383.8 1146.2 L380.0 1149.5Z" fill="#e9e9e9" style="stroke-width:0.96"/>
<path d="M371.2 1100.0 L372.5 1107.5 L385.0 1107.5 L381.2 1102.5Z" fill="#e9e9e9" style="stroke-width:0.96"/>
<path d="M2122.3 312.7 L2119.9 313.4 L2118.2 316.7 L2119.5 319.8 L2114.9 317.5 L2115.1 322.9 L2109.9 318.8 L2110.9 326.1 L2108.7 326.4 L2105.3 326.3 L2101.3 326.3 L2100.4 329.5 L2098.4 330.7 L2099.5 334.0 L2098.2 337.8 L2094.8 336.5 L2092.0 337.4 L2091.4 340.5 L2092.5 344.1 L2088.9 344.2 L2086.7 345.9 L2083.8 346.6 L2083.1 349.5 L2082.3 351.7 L2079.0 351.4 L2081.6 356.6 L2078.4 355.4 L2077.0 358.3 L2077.9 361.4 L2072.7 359.9 L2068.3 359.6 L2067.5 361.9 L2069.2 366.9 L2069.0 368.5 L2065.7 368.4 L2065.5 372.3 L2059.4 367.7 L2060.5 374.6 L2057.9 373.8 L2056.0 376.6 L2054.3 377.6 L2052.4 380.4 L2050.0 381.0" fill="none" style="stroke-width:1.7999999999999998"/>
<path d="M2123.4 314.5 L2121.7 316.9 L2120.0 317.7 L2114.9 314.8 L2112.5 316.5 L2113.2 320.4 L2111.8 321.3 L2107.6 320.4 L2105.1 322.6 L2108.7 329.5 L2103.7 328.9 L2103.9 331.8 L2100.9 333.1 L2095.8 332.2 L2098.8 337.9 L2095.6 338.8 L2093.7 340.7 L2089.2 339.3 L2088.6 341.8 L2089.1 343.9 L2084.9 343.6 L2088.8 350.7 L2085.3 349.7 L2080.7 348.1 L2078.9 350.6 L2081.6 356.0 L2078.8 355.8 L2074.7 356.1 L2071.7 356.5 L2070.8 359.4 L2068.8 359.6 L2069.4 363.3 L2065.8 363.6 L2064.1 364.9 L2067.3 370.7 L2065.1 372.1 L2060.8 370.6 L2058.1 370.0 L2056.7 372.7 L2056.9 378.0 L2056.4 380.1 L2051.7 379.1 L2050.0 381.0" fill="none" style="stroke-width:1.7999999999999998"/>
<path d="M2120.0 309.6 L2119.1 313.1 L2116.4 313.3 L2115.2 314.6 L2112.8 316.0 L2115.6 322.2 L2112.0 320.7 L2111.2 323.8 L2110.6 327.5 L2107.7 328.2 L2102.7 326.6 L2099.3 328.8 L2097.4 330.6 L2098.1 333.9 L2094.8 334.2 L2097.8 339.8 L2094.2 339.4 L2095.1 343.5 L2089.3 342.5 L2088.4 343.8 L2090.9 348.5 L2085.1 347.2 L2085.1 349.4 L2085.3 352.9 L2083.2 355.0 L2080.6 355.6 L2078.3 356.5 L2074.7 356.4 L2075.9 361.6 L2070.7 358.8 L2071.0 362.8 L2068.3 361.3 L2066.5 364.3 L2064.5 365.5 L2064.3 368.0 L2065.1 372.2 L2062.9 373.4 L2057.7 370.0 L2060.9 376.1 L2056.4 375.3 L2052.6 376.2 L2051.8 379.4 L2050.0 381.0" fill="none" style="stroke-width:1.7999999999999998"/>
<path d="M2120.9 312.8 L2120.3 315.0 L2116.3 313.4 L2115.5 316.4 L2114.0 316.3 L2114.8 323.1 L2111.1 320.2 L2109.2 321.7 L2108.8 326.0 L2107.9 328.1 L2103.8 328.5 L2103.0 331.1 L2097.9 329.0 L2100.6 334.5 L2096.2 335.0 L2096.3 338.0 L2092.1 338.8 L2092.3 342.3 L2092.5 344.5 L2086.9 341.9 L2090.2 347.8 L2084.6 347.4 L2087.0 352.1 L2083.6 351.6 L2082.8 354.2 L2081.1 357.0 L2079.6 357.8 L2075.4 356.8 L2074.8 359.2 L2071.1 357.5 L2073.2 363.5 L2068.5 362.0 L2069.1 365.2 L2068.1 368.9 L2066.2 369.6 L2064.7 370.8 L2062.5 373.3 L2059.0 371.7 L2059.0 376.0 L2056.2 375.0 L2055.1 379.9 L2053.1 380.2 L2050.0 381.0" fill="none" style="stroke-width:1.7999999999999998"/>
<path d="M2079.5 348.2 L2081.3 347.5 L2087.9 351.8 L2085.2 346.3 L2090.5 347.8 L2091.2 346.3 L2090.7 342.8 L2094.7 344.1 L2095.2 341.0 L2096.9 340.9 L2096.3 335.6 L2100.5 336.9 L2097.7 331.7 L2103.1 333.6 L2102.5 329.6 L2106.0 331.0" fill="none" style="stroke-width:2.16"/>
<circle cx="2140.0" cy="300.0" r="1.1" fill="#111" style="stroke:none"/><circle cx="2146.0" cy="296.0" r="1.1" fill="#111" style="stroke:none"/><circle cx="2118.0" cy="327.0" r="1.1" fill="#111" style="stroke:none"/><circle cx="2108.0" cy="335.0" r="1.1" fill="#111" style="stroke:none"/><circle cx="2098.0" cy="346.0" r="1.1" fill="#111" style="stroke:none"/><circle cx="2075.0" cy="366.0" r="1.1" fill="#111" style="stroke:none"/>
<path d="M2039.6 419.0 L2042.4 420.0 L2043.1 423.2 L2044.7 423.4 L2046.6 425.4 L2044.7 428.9 L2045.7 431.1 L2045.0 433.6 L2043.5 434.6 L2044.4 435.9 L2042.2 439.2 L2044.1 441.7 L2045.6 444.0 L2046.0 446.0" fill="none" style="stroke-width:1.2"/>
<path d="M2038.9 471.1 L2039.0 473.2 L2036.2 475.2 L2036.3 478.0 L2036.6 479.2 L2037.1 482.3 L2037.6 484.3 L2036.5 487.1 L2037.4 488.6 L2035.5 490.4 L2033.7 491.3 L2032.5 493.7 L2030.0 494.0" fill="none" style="stroke-width:1.2"/>
<path d="M2036.0 470.0 L2040.0 470.0 L2041.0 488.0 L2037.0 489.0Z" fill="#fafafa" style="stroke-width:1.08"/>
<path d="M1961.5 523.6 L1962.6 527.2 L1965.4 527.8 L1965.0 530.3 L1964.3 534.4 L1965.1 535.7 L1965.5 537.6 L1968.1 540.0 L1967.4 542.8 L1965.2 543.2 L1963.8 545.9 L1962.9 546.5 L1958.9 546.2 L1958.4 549.5 L1961.1 550.4 L1963.0 548.1 L1966.0 548.3 L1968.0 550.0" fill="none" style="stroke-width:1.2"/>
<path d="M1976.7 511.0 L1978.1 512.9 L1982.1 511.8 L1983.3 511.0 L1986.8 510.7 L1989.8 510.0 L1992.9 509.2 L1995.1 507.4 L1998.8 508.0 L1999.7 507.4 L2003.3 505.1 L2003.9 503.8 L2007.9 503.6 L2010.1 503.5 L2012.2 499.8 L2015.7 500.9 L2016.8 498.0 L2019.4 497.0 L2022.7 497.8 L2024.5 496.3 L2028.4 494.7 L2030.0 494.0" fill="none" style="stroke-width:1.2"/>
<path d="M1977.0 534.0 L1992.0 524.0 L2012.0 512.0 L2026.0 507.0 L2012.0 517.0 L1992.0 530.0Z" fill="#fafafa" style="stroke-width:1.08"/>
<circle cx="1767.0" cy="1309.0" r="1.1" fill="#111" style="stroke:none"/><circle cx="1771.0" cy="1308.5" r="1.1" fill="#111" style="stroke:none"/><circle cx="1790.0" cy="1305.0" r="1.1" fill="#111" style="stroke:none"/><circle cx="1797.0" cy="1304.0" r="1.1" fill="#111" style="stroke:none"/><circle cx="1768.0" cy="1306.0" r="1.1" fill="#111" style="stroke:none"/>
<path d="M1811.8 1301.3 L1813.7 1300.4 L1815.1 1300.6 L1817.9 1301.2 L1819.3 1300.5 L1819.8 1297.7 L1821.9 1297.0 L1823.2 1295.4 L1824.6 1295.4 L1827.4 1295.8 L1828.8 1294.7 L1830.6 1294.1 L1831.0 1292.0 L1832.6 1290.5 L1834.3 1290.6 L1836.5 1289.0 L1838.0 1289.0" fill="none" style="stroke-width:1.92"/>
<path d="M1815.1 1301.0 L1816.6 1301.1 L1817.9 1299.2 L1819.2 1299.0 L1820.5 1298.2 L1822.0 1296.9 L1824.3 1297.8 L1825.1 1296.7 L1826.1 1295.7 L1828.1 1295.6 L1829.6 1293.4 L1831.0 1292.7 L1832.4 1292.6 L1833.2 1292.1 L1834.7 1291.4 L1836.0 1290.0" fill="none" style="stroke-width:1.68"/>
<path d="M1838.1 1290.4 L1840.3 1289.5 L1842.5 1286.6 L1843.8 1285.6 L1846.2 1283.8 L1848.3 1285.5 L1849.4 1281.9 L1852.4 1281.4 L1853.9 1279.9 L1855.1 1278.6 L1857.2 1277.1 L1859.9 1276.4 L1861.9 1275.9 L1862.4 1272.9 L1865.1 1272.8 L1865.4 1269.8 L1867.4 1268.6 L1867.3 1265.2 L1869.3 1264.0 L1870.0 1262.0" fill="none" style="stroke-width:1.2"/>
<path d="M1842.5 1275.8 L1846.4 1277.6 L1846.7 1271.2 L1848.1 1270.5 L1851.1 1269.2 L1855.1 1273.4 L1855.8 1268.4 L1858.7 1272.1 L1859.7 1267.2 L1865.2 1269.1 L1865.6 1267.1 L1862.9 1262.9 L1865.3 1261.6 L1866.5 1260.4 L1868.0 1258.0" fill="none" style="stroke-width:1.08"/>
<path d="M1843.1 1275.8 L1845.6 1274.1 L1846.8 1270.6 L1850.8 1274.1 L1852.3 1274.1 L1855.1 1273.2 L1855.6 1267.9 L1858.2 1269.1 L1859.2 1266.0 L1858.7 1266.8 L1860.5 1265.2 L1864.7 1264.7 L1864.0 1260.5 L1868.3 1261.1 L1868.0 1258.0" fill="none" style="stroke-width:1.08"/>
<path d="M1842.4 1275.6 L1846.1 1277.2 L1847.7 1274.2 L1849.5 1271.9 L1852.4 1274.9 L1853.8 1271.7 L1856.6 1271.3 L1856.2 1266.9 L1860.6 1268.8 L1864.1 1268.6 L1860.9 1264.9 L1864.8 1264.5 L1864.3 1260.5 L1867.5 1260.6 L1868.0 1258.0" fill="none" style="stroke-width:1.08"/>
<path d="M1862.0 1268.0 L1870.0 1240.0 L1873.0 1255.0 L1869.0 1268.0Z" fill="#fafafa" style="stroke-width:1.08"/>
<path d="M1753.7 1151.1 L1752.7 1153.4 L1752.2 1156.4 L1750.7 1158.4 L1749.0 1160.1 L1750.6 1162.0 L1750.1 1166.4 L1751.2 1163.3 L1754.5 1162.4 L1756.0 1160.0 L1758.5 1162.6 L1761.4 1161.8 L1762.9 1163.9 L1764.0 1165.5 L1768.2 1165.3 L1767.4 1167.0 L1766.4 1170.2 L1762.7 1170.8 L1762.8 1172.4 L1763.6 1175.2 L1763.9 1177.2 L1761.1 1178.9 L1760.0 1181.0" fill="none" style="stroke-width:1.2"/>
<path d="M1754.0 1157.0 L1766.0 1163.0 L1761.0 1178.0 L1757.0 1168.0Z" fill="#ededed" style="stroke-width:1.08"/>
<path d="M1781.7 1210.6 L1779.3 1213.8 L1780.5 1215.7 L1783.1 1217.8 L1785.0 1217.8 L1786.1 1219.7 L1786.4 1222.4 L1787.2 1223.4 L1790.1 1224.6 L1791.7 1223.1 L1793.9 1226.6 L1794.9 1223.6 L1797.5 1225.0" fill="none" style="stroke-width:1.2"/>
<path d="M1781.0 1207.0 L1787.0 1206.5 L1787.0 1222.0 L1783.0 1214.0Z" fill="#ededed" style="stroke-width:1.08"/>
<path d="M1799.5 1232.1 L1800.5 1233.9 L1803.6 1234.0 L1803.3 1236.1 L1802.9 1238.9 L1803.6 1241.0 L1806.5 1242.6 L1806.4 1244.8 L1808.5 1245.3 L1811.0 1244.5 L1812.7 1246.2 L1815.7 1245.5 L1817.4 1247.1 L1819.4 1248.2 L1821.3 1250.4 L1823.1 1249.7 L1824.6 1250.1 L1825.4 1252.0 L1827.1 1254.5 L1829.2 1255.7 L1832.3 1256.1 L1831.7 1258.0 L1831.3 1260.9 L1832.1 1262.1 L1832.1 1264.9 L1833.4 1267.1 L1836.9 1267.9 L1836.0 1270.0" fill="none" style="stroke-width:1.44"/>
<path d="M1691.7 1074.1 L1694.9 1074.5 L1696.8 1076.2 L1697.8 1078.2 L1700.1 1078.5 L1701.6 1079.9 L1703.3 1080.2 L1704.7 1081.5 L1706.5 1082.5 L1708.3 1082.8 L1710.6 1085.0 L1711.2 1087.2 L1712.3 1089.1 L1714.5 1089.2 L1714.3 1091.3 L1715.7 1094.2 L1717.2 1094.2 L1719.2 1095.2 L1720.7 1097.2 L1722.6 1098.8 L1723.2 1101.8 L1725.2 1103.2 L1725.9 1103.5 L1728.3 1104.3 L1729.9 1107.0 L1729.8 1108.9 L1732.7 1110.0 L1734.2 1110.3 L1737.3 1110.1 L1738.1 1112.1 L1740.9 1111.1 L1743.2 1111.9 L1746.1 1112.1 L1744.5 1114.9 L1746.7 1117.2 L1745.1 1118.5 L1745.5 1121.3 L1747.1 1124.0 L1745.7 1126.5 L1747.1 1128.4 L1747.0 1130.0" fill="none" style="stroke-width:1.2"/>
<path d="M1654.4 1101.2 L1655.3 1099.0 L1658.0 1099.2 L1659.9 1096.9 L1661.6 1096.0 L1662.8 1093.9 L1664.0 1092.2 L1666.6 1090.9 L1667.7 1090.6 L1668.9 1088.1 L1672.0 1089.3 L1673.6 1085.9 L1674.2 1084.0 L1677.3 1083.3 L1676.4 1080.3 L1677.5 1078.8 L1679.8 1078.2 L1680.0 1076.0" fill="none" style="stroke-width:1.2"/>
<path d="M1652.0 1097.0 L1661.0 1090.0 L1659.0 1094.0Z" fill="#fafafa" style="stroke-width:0.96"/>
<path d="M1822.0 1112.0 L1828.0 1122.0 L1833.0 1140.0 L1831.0 1128.0Z" fill="#ededed" style="stroke-width:1.08"/>
<path d="M1836.0 1140.0 L1860.0 1183.0 L1858.0 1180.0 L1834.0 1139.0" fill="none" style="stroke-width:1.44"/>
<path d="M1790.7 977.5 L1791.9 974.7 L1795.3 974.5 L1794.6 972.7 L1795.6 970.8 L1796.9 968.3 L1798.8 966.9 L1800.5 966.3 L1799.9 963.7 L1800.8 961.4 L1801.8 960.5 L1804.8 959.4 L1806.3 957.0 L1806.0 955.8 L1805.6 953.3 L1808.4 952.1 L1808.7 950.0" fill="none" style="stroke-width:1.2"/>
<path d="M1826.1 938.1 L1829.4 938.4 L1829.8 935.8 L1832.1 934.0 L1833.5 931.5 L1834.5 930.9 L1835.5 928.1 L1837.2 927.5 L1839.2 925.7 L1840.1 924.3 L1840.4 921.8 L1842.3 919.9 L1843.6 918.1 L1846.7 916.7 L1846.8 914.2 L1848.3 911.5 L1851.2 911.3 L1850.2 907.7 L1850.6 907.1 L1852.3 904.7 L1854.2 903.4 L1853.0 899.9 L1854.0 897.4 L1856.0 896.0" fill="none" style="stroke-width:1.44"/>
<path d="M425.6 151.1 L428.1 151.3 L430.2 150.3 L431.6 148.8 L434.2 148.4 L433.7 151.6 L436.8 151.4 L437.7 153.0 L437.9 156.3 L439.5 156.8 L439.9 157.7 L438.9 160.1 L436.2 159.2 L436.6 162.2 L435.0 161.1 L432.5 162.2 L432.0 159.3 L428.6 160.1 L428.0 158.0" fill="none" style="stroke-width:1.2"/>
<path d="M426.7 153.4 L426.8 149.7 L430.1 149.0 L430.8 150.5 L433.6 149.8 L433.9 152.5 L437.0 151.3 L440.0 152.0 L440.7 154.7 L440.5 157.5 L441.4 159.2 L437.9 158.0 L437.7 162.8 L434.6 160.0 L433.9 161.6 L433.2 160.3 L429.6 161.6 L431.1 157.7 L428.0 158.0" fill="none" style="stroke-width:1.2"/>
<path d="M425.8 151.8 L427.4 149.0 L430.6 150.6 L432.3 149.0 L432.8 151.6 L435.9 150.8 L436.4 151.0 L439.0 152.5 L437.5 155.5 L439.2 157.0 L441.2 161.2 L439.2 159.4 L437.7 159.6 L435.4 159.6 L435.5 160.6 L432.6 161.3 L431.8 159.9 L428.6 160.8 L428.0 158.0" fill="none" style="stroke-width:1.2"/>
<circle cx="431.5" cy="137.8" r="1.4300000000000002" fill="#111" style="stroke:none"/>
<path d="M431.8 172.5 L432.8 173.3 L432.6 175.5 L434.1 178.2 L433.7 179.4 L433.0 182.1 L433.9 183.8 L435.3 185.8 L434.0 188.4 L432.8 189.2 L432.9 191.5 L430.8 193.6 L431.1 197.4 L428.2 196.1 L426.3 198.4 L426.7 201.8 L426.1 202.4 L421.5 202.7 L420.9 205.1 L419.3 206.2 L418.9 207.7 L415.8 208.2 L415.7 211.5 L413.5 212.3 L413.4 215.3 L411.4 216.1 L414.0 216.9 L415.8 215.3 L418.0 218.0 L420.0 218.0" fill="none" style="stroke-width:1.2"/>
<path d="M409.7 220.1 L410.3 216.1 L411.3 214.3 L414.6 213.8 L416.6 210.5 L418.5 212.6 L421.2 211.2 L422.8 212.2 L424.4 213.7 L424.6 211.6 L426.7 209.3 L429.0 209.9 L431.0 208.0" fill="none" style="stroke-width:1.2"/>
<circle cx="371.5" cy="158.0" r="1.1" fill="#111" style="stroke:none"/><circle cx="372.0" cy="166.0" r="1.1" fill="#111" style="stroke:none"/><circle cx="370.0" cy="186.0" r="1.1" fill="#111" style="stroke:none"/><circle cx="372.5" cy="205.0" r="1.1" fill="#111" style="stroke:none"/><circle cx="371.0" cy="232.0" r="1.1" fill="#111" style="stroke:none"/><circle cx="306.0" cy="410.0" r="1.1" fill="#111" style="stroke:none"/><circle cx="304.5" cy="420.0" r="1.1" fill="#111" style="stroke:none"/><circle cx="305.0" cy="428.0" r="1.1" fill="#111" style="stroke:none"/><circle cx="309.0" cy="404.0" r="1.1" fill="#111" style="stroke:none"/>
<path d="M1384.2 348.1 L1386.4 346.9 L1386.1 344.4 L1388.3 342.5 L1390.1 345.6 L1392.8 346.6 L1391.7 347.9 L1389.8 348.6 L1389.8 352.0 L1388.5 349.0 L1386.0 350.0" fill="none" style="stroke-width:1.2"/>
<path d="M1383.2 346.2 L1384.4 345.3 L1386.7 345.7 L1387.9 343.4 L1389.3 346.4 L1392.6 346.1 L1390.4 347.1 L1389.8 348.8 L1389.3 351.6 L1387.2 351.8 L1386.0 350.0" fill="none" style="stroke-width:1.2"/>
<path d="M1431.0 294.0 L1440.0 288.0 L1452.0 281.0 L1460.0 275.5 L1453.0 282.0 L1441.0 289.5Z" fill="#111" style="stroke-width:0.96"/>
<path d="M1552.5 380.0 L1555.5 379.5 L1554.0 385.5Z" fill="#e4573a" style="stroke-width:1.08"/>
<path d="M1541.0 406.0 L1544.5 407.5 L1542.5 410.5Z" fill="#e4573a" style="stroke-width:1.08"/>
<circle cx="1549.0" cy="375.0" r="1.1" fill="#111" style="stroke:none"/><circle cx="1551.0" cy="372.0" r="1.1" fill="#111" style="stroke:none"/><circle cx="1546.0" cy="392.0" r="1.1" fill="#111" style="stroke:none"/><circle cx="1544.0" cy="398.0" r="1.1" fill="#111" style="stroke:none"/><circle cx="1538.0" cy="413.0" r="1.1" fill="#111" style="stroke:none"/><circle cx="1540.0" cy="420.0" r="1.1" fill="#111" style="stroke:none"/><circle cx="1556.0" cy="377.0" r="1.1" fill="#111" style="stroke:none"/>
<path d="M1580.5 369.0 L1586.0 370.5 L1582.0 373.0Z" fill="#ee864a" style="stroke-width:1.08"/>
<circle cx="1590.0" cy="365.0" r="1.1" fill="#111" style="stroke:none"/><circle cx="1594.0" cy="367.0" r="1.1" fill="#111" style="stroke:none"/><circle cx="1604.0" cy="360.0" r="1.1" fill="#111" style="stroke:none"/><circle cx="1608.0" cy="359.0" r="1.1" fill="#111" style="stroke:none"/>
<path d="M1596.3 351.4 L1597.9 353.4 L1599.4 352.8 L1601.0 353.5 L1602.6 355.6 L1603.9 356.4 L1605.9 354.5 L1606.7 357.8 L1609.4 356.5 L1609.5 359.2 L1611.9 358.4 L1612.2 360.9 L1614.7 360.1 L1616.0 362.0" fill="none" style="stroke-width:1.2"/>
<path d="M1465.9 335.0 L1467.8 335.1 L1469.5 335.8 L1472.4 334.9 L1474.6 335.3 L1475.8 334.5 L1477.9 334.3 L1480.3 335.8 L1481.6 337.7 L1482.6 340.8 L1483.7 341.3 L1486.7 342.7 L1488.4 343.9 L1489.6 345.0 L1491.2 347.6 L1492.4 349.3 L1494.0 350.0" fill="none" style="stroke-width:1.2"/>
<circle cx="1497.0" cy="340.0" r="1.1" fill="#111" style="stroke:none"/><circle cx="1500.0" cy="343.0" r="1.1" fill="#111" style="stroke:none"/><circle cx="1519.0" cy="348.0" r="1.1" fill="#111" style="stroke:none"/><circle cx="1521.0" cy="351.0" r="1.1" fill="#111" style="stroke:none"/>
<path d="M1524.7 388.5 L1522.4 390.1 L1520.7 391.0 L1520.3 392.1 L1518.4 393.7 L1518.1 395.4 L1517.2 398.3 L1517.1 399.3 L1515.5 401.0 L1514.0 402.7 L1514.1 404.1 L1512.5 405.9 L1511.0 407.7 L1509.9 409.0 L1509.7 411.3 L1507.6 412.4 L1509.1 414.6 L1507.0 416.0" fill="none" style="stroke-width:1.2"/>
<circle cx="1663.0" cy="548.0" r="1.1" fill="#111" style="stroke:none"/><circle cx="1665.5" cy="552.0" r="1.1" fill="#111" style="stroke:none"/><circle cx="1667.0" cy="556.0" r="1.1" fill="#111" style="stroke:none"/><circle cx="1670.0" cy="558.0" r="1.1" fill="#111" style="stroke:none"/><circle cx="1658.0" cy="546.0" r="1.1" fill="#111" style="stroke:none"/>
<path d="M1662.4 559.8 L1662.8 558.2 L1664.6 557.2 L1665.9 557.0 L1666.9 557.3 L1669.9 557.4 L1670.0 560.3 L1672.0 561.0" fill="none" style="stroke-width:1.2"/>
<circle cx="1663.5" cy="498.0" r="1.1" fill="#111" style="stroke:none"/><circle cx="1664.0" cy="502.0" r="1.1" fill="#111" style="stroke:none"/>
<circle cx="1629.0" cy="447.0" r="1.1" fill="#111" style="stroke:none"/><circle cx="1641.0" cy="445.0" r="1.1" fill="#111" style="stroke:none"/>
<path d="M1484.6 1092.6 L1488.7 1093.6 L1482.7 1095.8 L1487.3 1098.6 L1485.0 1101.0 L1484.5 1102.9 L1483.8 1104.0 L1484.1 1107.5 L1482.0 1108.3 L1484.2 1112.1 L1483.8 1114.0 L1482.6 1115.2 L1478.8 1115.7 L1481.5 1116.5 L1480.1 1119.5 L1482.5 1120.6 L1480.1 1124.6 L1482.1 1125.2 L1482.5 1129.7 L1483.6 1130.3 L1485.3 1131.8 L1489.0 1130.4 L1488.2 1133.5 L1491.2 1133.4 L1492.5 1135.3 L1490.9 1139.6 L1493.8 1139.0 L1493.1 1143.0 L1496.0 1143.0" fill="none" style="stroke-width:1.2"/>
<path d="M1487.8 1092.3 L1488.1 1095.0 L1487.5 1096.4 L1483.8 1099.0 L1484.8 1100.9 L1484.9 1103.4 L1486.4 1106.0 L1483.6 1106.6 L1484.0 1108.2 L1482.1 1110.3 L1481.0 1112.1 L1478.3 1113.5 L1479.2 1115.4 L1479.7 1118.5 L1480.4 1119.2 L1481.0 1121.2 L1479.7 1125.0 L1484.0 1126.1 L1483.0 1127.6 L1482.6 1130.7 L1486.8 1129.5 L1485.9 1133.5 L1488.4 1133.2 L1491.3 1133.4 L1491.1 1137.1 L1491.3 1138.1 L1494.0 1138.9 L1493.6 1141.7 L1496.0 1143.0" fill="none" style="stroke-width:1.2"/>
<path d="M1484.3 1091.1 L1483.8 1093.7 L1488.6 1095.9 L1485.5 1098.7 L1483.4 1101.0 L1487.5 1103.6 L1487.0 1106.5 L1484.3 1107.1 L1482.1 1107.6 L1484.6 1112.2 L1483.5 1112.9 L1483.0 1115.2 L1481.0 1116.6 L1476.5 1119.0 L1480.4 1120.2 L1479.4 1122.0 L1479.7 1125.2 L1483.6 1125.5 L1482.2 1128.5 L1483.9 1130.2 L1486.6 1130.7 L1489.1 1130.7 L1488.1 1134.8 L1489.3 1136.8 L1491.9 1135.2 L1494.7 1135.9 L1495.9 1138.9 L1493.1 1142.9 L1496.0 1143.0" fill="none" style="stroke-width:1.2"/>
<path d="M1439.4 1134.8 L1442.8 1135.8 L1444.3 1133.4 L1446.9 1133.9 L1448.1 1130.0 L1450.9 1129.5 L1452.4 1131.5 L1451.9 1134.3 L1455.3 1134.8 L1453.9 1137.9 L1457.9 1140.6 L1459.4 1139.0 L1462.1 1136.9 L1463.6 1135.9 L1465.3 1134.2 L1463.9 1129.9 L1466.9 1129.4 L1469.0 1130.4 L1470.5 1130.2 L1472.8 1130.8 L1473.9 1133.0 L1477.0 1132.0" fill="none" style="stroke-width:1.2"/>
<path d="M1413.2 1124.4 L1411.6 1127.2 L1413.3 1128.7 L1416.3 1130.6 L1417.7 1131.9 L1419.7 1133.4 L1419.1 1134.8 L1421.6 1136.5 L1421.5 1139.8 L1422.3 1141.1 L1425.1 1140.9 L1426.9 1143.8 L1429.0 1144.0" fill="none" style="stroke-width:1.2"/>
<circle cx="1497.0" cy="1148.0" r="1.1" fill="#111" style="stroke:none"/><circle cx="1494.0" cy="1152.0" r="1.1" fill="#111" style="stroke:none"/><circle cx="1490.0" cy="1156.0" r="1.1" fill="#111" style="stroke:none"/><circle cx="1505.0" cy="1101.0" r="1.1" fill="#111" style="stroke:none"/><circle cx="1506.0" cy="1108.0" r="1.1" fill="#111" style="stroke:none"/>
<path d="M1486.1 1083.7 L1489.1 1083.3 L1490.6 1082.4 L1492.9 1080.6 L1494.2 1080.8 L1495.3 1078.5 L1497.3 1079.4 L1500.8 1078.8 L1501.9 1079.1 L1504.0 1078.0" fill="none" style="stroke-width:1.2"/>
<path d="M1530.0 1080.0 L1536.0 1064.0 L1543.0 1081.0Z" fill="#f7f7f7" style="stroke-width:1.08"/>
<path d="M1553.0 1078.0 L1557.0 1069.0 L1560.0 1076.0Z" fill="#f7f7f7" style="stroke-width:1.08"/>
<path d="M1565.0 1075.0 L1571.0 1066.0 L1574.0 1072.0 L1590.0 1068.0 L1606.0 1066.5 L1590.0 1071.0Z" fill="#f7f7f7" style="stroke-width:1.08"/>
<circle cx="1512.0" cy="1082.0" r="1.1" fill="#111" style="stroke:none"/><circle cx="1520.0" cy="1083.0" r="1.1" fill="#111" style="stroke:none"/><circle cx="1528.0" cy="1083.0" r="1.1" fill="#111" style="stroke:none"/><circle cx="1548.0" cy="1083.0" r="1.1" fill="#111" style="stroke:none"/>
<path d="M1641.0 1099.5 L1650.0 1094.0 L1660.0 1089.0 L1668.0 1083.0" fill="none" style="stroke-width:1.32"/>
<path d="M1183.0 1287.0 L1175.5 1241.0 L1175.5 1231.0 L1181.0 1213.5 L1190.0 1199.5 L1201.5 1188.5 L1214.0 1180.0 L1253.5 1160.5 L1279.0 1135.0" fill="none" style="stroke-width:1.32"/>
<path d="M1169.0 1232.0 L1158.0 1222.0 L1168.0 1226.0 L1166.0 1219.0Z" fill="#f7f7f7" style="stroke-width:1.08"/>
<path d="M1177.0 1208.0 L1165.0 1203.0 L1181.0 1204.0Z" fill="#f7f7f7" style="stroke-width:1.08"/>
<path d="M1180.0 1195.0 L1183.0 1189.0 L1193.0 1187.0 L1189.0 1192.0Z" fill="#f7f7f7" style="stroke-width:1.08"/>
<path d="M1194.0 1176.0 L1198.0 1184.0 L1201.0 1180.0Z" fill="#f7f7f7" style="stroke-width:1.08"/>
<path d="M1201.0 1165.0 L1210.0 1168.0 L1206.0 1172.0 L1228.0 1168.0 L1214.0 1176.0Z" fill="#f7f7f7" style="stroke-width:1.08"/>
<path d="M1258.0 1150.0 L1261.0 1144.0 L1270.0 1140.0 L1274.0 1136.0 L1266.0 1146.0Z" fill="#f7f7f7" style="stroke-width:1.08"/>
<path d="M1266.0 1122.0 L1276.0 1118.0 L1277.0 1131.0 L1271.0 1127.0Z" fill="#f7f7f7" style="stroke-width:1.08"/>
<path d="M1177.1 1289.7 L1178.1 1287.3 L1178.2 1284.0 L1177.4 1282.6 L1177.3 1280.8 L1176.3 1278.6 L1175.5 1275.6 L1174.5 1273.9 L1175.6 1272.6 L1175.7 1269.9 L1174.4 1268.3 L1173.9 1265.3 L1173.2 1263.7 L1173.9 1261.3 L1173.5 1260.0 L1172.3 1258.2 L1172.0 1255.4 L1172.9 1254.3 L1171.4 1252.8 L1172.5 1250.7 L1171.3 1248.5 L1170.9 1245.3 L1171.6 1243.8 L1172.6 1242.0 L1172.6 1239.6 L1172.2 1237.9 L1172.0 1236.0" fill="none" style="stroke-width:1.56"/>
<path d="M1308.0 1115.0 L1314.0 1106.0 L1312.0 1118.0Z" fill="#f7f7f7" style="stroke-width:1.08"/>
<path d="M1373.0 1116.0 L1386.0 1113.0 L1396.0 1120.0 L1384.0 1123.0Z" fill="#f1f1f1" style="stroke-width:1.08"/>
<path d="M1944.0 753.0 L1955.0 757.5 L1964.5 772.0 L1968.0 792.5 L1944.5 812.0 L1938.0 820.5 L1914.0 832.5" fill="none" style="stroke-width:1.32"/>
<path d="M1938.3 742.0 L1938.9 744.0 L1939.6 746.6 L1940.8 747.9 L1941.8 749.1 L1942.5 751.9 L1943.9 752.8 L1946.4 754.1 L1945.9 756.5 L1948.4 756.6 L1948.7 758.6 L1951.5 760.0 L1952.4 762.2 L1954.6 763.5 L1954.9 763.8 L1957.0 765.2 L1957.0 768.8 L1959.5 769.2 L1960.8 771.8 L1960.7 773.3 L1962.0 776.0" fill="none" style="stroke-width:1.2"/>
<path d="M1912.6 831.1 L1913.8 829.1 L1914.9 826.8 L1916.5 826.1 L1918.3 825.0 L1920.9 824.7 L1923.2 823.6 L1925.7 823.0 L1927.5 821.8 L1929.9 820.8 L1931.1 821.1 L1932.5 818.2 L1935.1 816.9 L1937.0 817.0" fill="none" style="stroke-width:1.44"/>
<path d="M1924.8 806.6 L1925.4 803.9 L1925.7 801.6 L1929.9 802.1 L1931.2 799.5 L1928.8 797.2 L1931.6 795.3 L1931.3 793.6 L1932.0 792.6 L1930.6 789.8 L1929.2 788.8 L1930.0 786.0" fill="none" style="stroke-width:1.2"/>
<path d="M1919.0 655.4 L1919.0 657.9 L1919.8 659.4 L1922.3 661.0 L1924.9 662.3 L1924.8 665.1 L1924.8 668.1 L1927.1 669.7 L1927.3 672.1 L1927.7 673.3 L1929.8 676.2 L1928.8 678.3 L1929.6 680.0 L1931.4 682.4 L1929.3 684.6 L1930.1 685.2 L1930.5 688.0 L1929.6 689.7 L1930.5 691.9 L1928.4 693.4 L1931.5 696.7 L1929.7 697.2 L1931.1 699.7 L1930.1 702.5 L1929.7 703.5 L1929.8 706.4 L1930.2 707.9 L1930.6 710.8 L1931.0 712.0" fill="none" style="stroke-width:1.2"/>
<path d="M1931.9 711.2 L1932.3 710.3 L1934.4 707.6 L1934.4 706.6 L1934.7 703.7 L1935.1 701.4 L1936.0 699.1 L1936.2 696.6 L1939.1 695.4 L1938.4 692.3 L1939.3 689.6 L1941.1 687.9 L1940.6 686.6 L1940.5 683.3 L1942.9 681.6 L1944.0 679.1 L1942.7 676.2 L1945.3 675.0 L1945.8 671.9 L1945.0 669.2 L1945.3 667.6 L1947.0 666.3 L1947.8 663.6 L1947.9 660.8 L1949.1 659.2 L1949.1 656.6 L1948.3 654.3 L1950.8 651.7 L1950.0 650.0" fill="none" style="stroke-width:1.56"/>
<path d="M1915.3 678.2 L1915.2 680.5 L1914.0 682.6 L1915.3 683.7 L1914.8 687.3 L1917.1 687.8 L1917.6 690.9 L1916.5 692.7 L1919.1 694.3 L1919.5 696.6 L1917.1 698.4 L1917.8 700.7 L1916.4 702.7 L1918.3 706.3 L1914.5 708.7 L1915.8 710.3 L1915.5 712.3 L1920.0 713.5 L1918.7 715.6 L1921.2 717.6 L1921.1 719.1 L1921.0 722.0" fill="none" style="stroke-width:1.2"/>
<path d="M1931.6 719.3 L1932.0 720.2 L1933.0 723.3 L1932.9 724.6 L1934.3 726.6 L1937.0 729.1 L1935.6 731.0 L1936.6 733.8 L1939.4 734.4 L1939.0 736.3 L1938.7 740.0 L1940.1 741.9 L1940.3 743.4 L1941.1 746.2 L1942.4 747.6 L1943.5 749.6 L1943.0 752.0" fill="none" style="stroke-width:1.56"/>
<path d="M1966.4 589.7 L1965.9 592.0 L1963.6 593.4 L1963.1 596.4 L1961.6 598.6 L1961.1 599.9 L1959.9 601.5 L1958.3 603.4 L1958.4 606.4 L1958.0 608.6 L1955.8 609.4 L1954.6 611.6 L1954.2 613.7 L1954.2 615.8 L1953.0 618.0" fill="none" style="stroke-width:1.44"/>
<path d="M1947.0 628.0 L1950.0 632.0 L1952.0 644.0 L1949.0 640.0Z" fill="#f7f7f7" style="stroke-width:1.08"/>
<circle cx="1765.0" cy="571.0" r="1.1" fill="#111" style="stroke:none"/><circle cx="1770.0" cy="569.0" r="1.1" fill="#111" style="stroke:none"/><circle cx="1778.0" cy="562.0" r="1.1" fill="#111" style="stroke:none"/><circle cx="1786.0" cy="565.0" r="1.1" fill="#111" style="stroke:none"/><circle cx="1784.0" cy="571.0" r="1.1" fill="#111" style="stroke:none"/><circle cx="1841.0" cy="553.0" r="1.1" fill="#111" style="stroke:none"/>
<path d="M1792.9 538.4 L1795.1 536.9 L1795.1 534.4 L1794.5 532.3 L1795.3 531.5 L1796.9 529.4 L1799.6 529.6 L1799.3 527.4 L1800.8 526.0 L1803.0 525.0 L1804.6 525.7 L1803.6 528.7 L1806.5 529.4 L1806.0 531.0" fill="none" style="stroke-width:1.2"/>
<path d="M1810.0 523.0 L1816.0 523.5 L1815.0 527.0 L1811.0 527.0Z" fill="#ee864a" style="stroke-width:1.08"/>
<path d="M1832.0 549.0 L1846.0 553.0 L1835.0 560.0 L1833.0 554.0Z" fill="#ee864a" style="stroke-width:1.08"/>
<circle cx="1262.0" cy="648.0" r="1.1" fill="#111" style="stroke:none"/><circle cx="1265.0" cy="646.0" r="1.1" fill="#111" style="stroke:none"/><circle cx="1250.0" cy="641.0" r="1.1" fill="#111" style="stroke:none"/><circle cx="1247.0" cy="642.0" r="1.1" fill="#111" style="stroke:none"/>
<circle cx="1238.0" cy="876.0" r="1.1" fill="#111" style="stroke:none"/><circle cx="1239.0" cy="879.0" r="1.1" fill="#111" style="stroke:none"/><circle cx="1243.0" cy="889.0" r="1.1" fill="#111" style="stroke:none"/><circle cx="1409.0" cy="963.0" r="1.1" fill="#111" style="stroke:none"/><circle cx="1505.0" cy="987.0" r="1.1" fill="#111" style="stroke:none"/><circle cx="1309.0" cy="1041.0" r="1.1" fill="#111" style="stroke:none"/><circle cx="1267.0" cy="1011.0" r="1.1" fill="#111" style="stroke:none"/>
<circle cx="1240.0" cy="892.0" r="1.1" fill="#111" style="stroke:none"/><circle cx="1243.0" cy="899.0" r="1.1" fill="#111" style="stroke:none"/><circle cx="1322.0" cy="869.0" r="1.1" fill="#111" style="stroke:none"/><circle cx="1328.0" cy="877.0" r="1.1" fill="#111" style="stroke:none"/>
<circle cx="835.0" cy="798.0" r="1.1" fill="#111" style="stroke:none"/><circle cx="781.0" cy="828.0" r="1.1" fill="#111" style="stroke:none"/>
<path d="M1454.0 445.5 L1459.0 447.0 L1458.0 449.0Z" fill="#111" style="stroke-width:0.72"/>
<circle cx="288.0" cy="622.0" r="1.1" fill="#111" style="stroke:none"/><circle cx="290.0" cy="626.0" r="1.1" fill="#111" style="stroke:none"/><circle cx="285.0" cy="548.0" r="1.1" fill="#111" style="stroke:none"/><circle cx="284.5" cy="553.0" r="1.1" fill="#111" style="stroke:none"/><circle cx="323.0" cy="634.0" r="1.1" fill="#111" style="stroke:none"/>
<circle cx="657.5" cy="1180.5" r="1.1" fill="#111" style="stroke:none"/><circle cx="811.5" cy="1209.0" r="1.1" fill="#111" style="stroke:none"/>
<path d="M2094.9 1291.8 L2097.1 1292.3 L2098.4 1292.7 L2100.0 1293.3 L2101.8 1292.7 L2104.0 1291.7 L2105.4 1291.8 L2106.3 1291.6 L2108.7 1289.7 L2110.2 1290.2 L2111.2 1288.3 L2112.8 1288.4 L2115.9 1289.0 L2116.3 1287.3 L2117.8 1285.6 L2119.1 1284.2 L2121.4 1283.5 L2123.0 1283.0" fill="none" style="stroke-width:1.44"/>
<path d="M2126.1 1287.0 L2127.7 1285.8 L2129.3 1286.2 L2130.5 1284.9 L2131.9 1285.1 L2132.8 1283.1 L2134.8 1284.9 L2136.1 1283.2 L2137.2 1282.4 L2139.0 1283.0" fill="none" style="stroke-width:1.56"/>
<path d="M2131.2 1276.4 L2133.2 1276.3 L2135.1 1276.6 L2136.8 1275.0 L2138.5 1275.9 L2141.0 1275.5" fill="none" style="stroke-width:1.56"/>
<circle cx="2042.5" cy="1272.5" r="1.1" fill="#111" style="stroke:none"/><circle cx="2122.0" cy="1271.0" r="1.1" fill="#111" style="stroke:none"/><circle cx="2124.0" cy="1275.0" r="1.1" fill="#111" style="stroke:none"/>
<path d="M1457.9 358.6 L1457.9 364.7 L1460.4 366.2 L1461.5 374.3 L1447.8 374.3" fill="none" style="stroke-width:1.32"/>
</g>
<g class="lab" filter="url(#ls)">
<text x="620" y="445.8">NWPP</text>
<text x="400.6" y="689.1">CAMX</text>
<text x="729.3" y="888.9">AZNM</text>
<text x="904.8" y="606.9">RMPA</text>
<text x="1193.1" y="444.1">MROW</text>
<text x="1166.9" y="728.4">SPNO</text>
<text x="1130" y="899.7">SPSO</text>
<text x="1101.3" y="1064.7">ERCT</text>
<text x="1387.5" y="951.9">SRMV</text>
<text x="1627.6" y="984.1">SRSO</text>
<text x="1408.1" y="699.1">SRMW</text>
<text x="1655" y="645.3">RFCW</text>
<text x="1571.3" y="824.1">SRTV</text>
<text x="1456.3" y="440.8">MROE</text>
<text x="1596.4" y="481.9">RFCM</text>
<text x="1888.8" y="453.6">NYUP</text>
<text x="2027.5" y="362.8">NEWE</text>
<text x="1989.5" y="531.6">NYLI</text>
<text x="1868.8" y="575.8">RFCE</text>
<text x="1823" y="812.8">SRVC</text>
<text x="1778" y="1141.8">FRCC</text>
<text x="432.8" y="1136.9">AKMS</text>
<text x="765.6" y="1194.8">HIOA</text>
<text x="869.4" y="1279.7">HIMS</text>
<text x="2085" y="1285.4">PRMS</text>
</g>
<g class="hd" filter="url(#noop)">
<text x="38.5" y="61.5" font-size="32.5" textLength="405" lengthAdjust="spacingAndGlyphs">Net carbon capture (Mt CO</text>
<text x="446" y="74" font-size="17" textLength="9.5" lengthAdjust="spacingAndGlyphs">2</text>
<text x="457" y="61.5" font-size="32.5" textLength="20" lengthAdjust="spacingAndGlyphs">):</text>
<text x="502" y="61.5" font-size="32.5" textLength="65" lengthAdjust="spacingAndGlyphs">0.73</text>
<text x="829.5" y="61.5" font-size="32.5" textLength="65" lengthAdjust="spacingAndGlyphs">0.96</text>
<rect x="575" y="34" width="247" height="31" rx="5" fill="url(#lg)"/>
</g>
<g class="ft" filter="url(#noop)">
<text x="38" y="1399" textLength="402" lengthAdjust="spacingAndGlyphs">Source: Vilallonga and Cleveland (2022)</text>
<text x="38" y="1430" textLength="865" lengthAdjust="spacingAndGlyphs">Boston University Institute for Global Sustainability | visualizingenergy.org | CC BY 4.0</text>
</g>
<g font-family="Liberation Sans, sans-serif" fill="#6f88af" filter="url(#noop)">
<text x="1846" y="1411" font-size="42" textLength="211" lengthAdjust="spacingAndGlyphs" stroke="#fff" stroke-width="0.9">visualizing</text>
<text x="2058" y="1411" font-size="42" font-weight="700" textLength="151" lengthAdjust="spacingAndGlyphs">Energy</text>
</g>
</svg>
<div class="btn"><svg width="54" height="54" viewBox="0 0 54 54"><circle cx="25.2" cy="25.5" r="7.9" fill="none" stroke="#333" stroke-width="3.4"/><path d="M31.4 31.8 L37.2 37.6" stroke="#333" stroke-width="4" stroke-linecap="round"/></svg></div>
</body></html>
